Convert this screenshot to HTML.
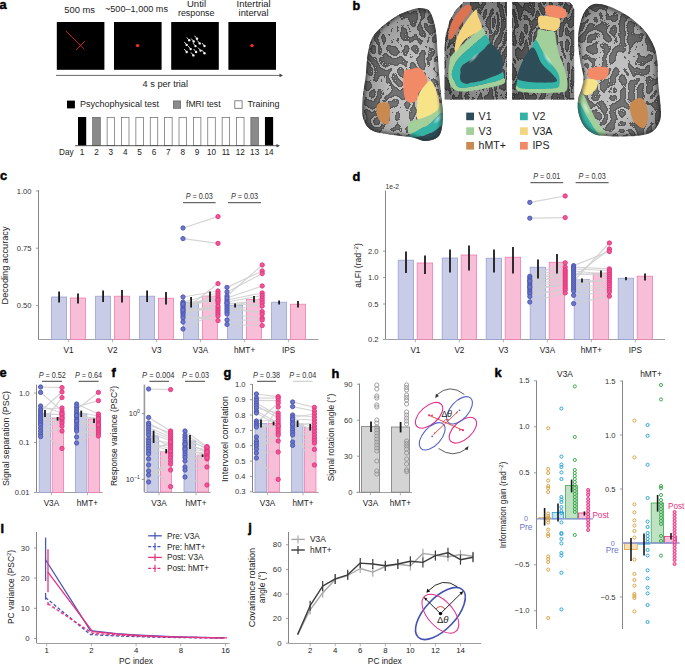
<!DOCTYPE html>
<html><head><meta charset="utf-8"><style>
html,body{margin:0;padding:0;background:#fff;}
svg{display:block;font-family:"Liberation Sans", sans-serif;}
</style></head><body>
<svg width="685" height="665" viewBox="0 0 685 665">
<rect width="685" height="665" fill="#fff"/>
<defs>
<filter id="tex" filterUnits="userSpaceOnUse" x="340" y="0" width="345" height="150" color-interpolation-filters="sRGB">
  <feTurbulence type="turbulence" baseFrequency="0.11 0.09" numOctaves="1" seed="4" result="noise"/>
  <feColorMatrix in="noise" type="matrix" values="0 0 0 0 0  0 0 0 0 0  0 0 0 0 0  1 0 0 0 0" result="c"/>
  <feComponentTransfer in="c" result="th"><feFuncA type="discrete" tableValues="0 0 0 0 0 0 0 0 0 1 1 1 1 1 1 1 1 1 1 1 1 1 1 1 1 1 1 1 1 1 1 1 1 1 1 1 1 1 1 1 1 1 1 1 1 1 1 1 1 1 1 1 1 1 1 1 1 1 1 1 1 1 1 1 1 1 1 1 1 1 1 1 1 1 1 1 1 1 1 1"/></feComponentTransfer>
  <feGaussianBlur in="th" stdDeviation="0.55" result="thb"/>
  <feComponentTransfer in="thb" result="th2"><feFuncA type="linear" slope="1.6" intercept="-0.3"/></feComponentTransfer>
  <feMorphology in="th2" operator="erode" radius="0.6" result="er"/>
  <feFlood flood-color="#5e5e5e" result="f1"/>
  <feComposite in="f1" in2="th2" operator="in" result="d1"/>
  <feFlood flood-color="#727272" result="f2"/>
  <feComposite in="f2" in2="er" operator="in" result="d2"/>
  <feMerge result="m"><feMergeNode in="d1"/><feMergeNode in="d2"/></feMerge>
  <feGaussianBlur in="m" stdDeviation="0.4" result="bl"/>
  <feComposite in="bl" in2="SourceAlpha" operator="in"/>
</filter>
<filter id="tex2" filterUnits="userSpaceOnUse" x="340" y="0" width="345" height="150" color-interpolation-filters="sRGB">
  <feTurbulence type="turbulence" baseFrequency="0.17 0.065" numOctaves="1" seed="9" result="noise"/>
  <feColorMatrix in="noise" type="matrix" values="0 0 0 0 0  0 0 0 0 0  0 0 0 0 0  1 0 0 0 0" result="c"/>
  <feComponentTransfer in="c" result="th"><feFuncA type="discrete" tableValues="0 0 0 0 0 0 0 0 0 1 1 1 1 1 1 1 1 1 1 1 1 1 1 1 1 1 1 1 1 1 1 1 1 1 1 1 1 1 1 1 1 1 1 1 1 1 1 1 1 1 1 1 1 1 1 1 1 1 1 1 1 1 1 1 1 1 1 1 1 1 1 1 1 1 1 1 1 1 1 1"/></feComponentTransfer>
  <feGaussianBlur in="th" stdDeviation="0.55" result="thb"/>
  <feComponentTransfer in="thb" result="th2"><feFuncA type="linear" slope="1.6" intercept="-0.3"/></feComponentTransfer>
  <feMorphology in="th2" operator="erode" radius="0.6" result="er"/>
  <feFlood flood-color="#525252" result="f1"/>
  <feComposite in="f1" in2="th2" operator="in" result="d1"/>
  <feFlood flood-color="#666666" result="f2"/>
  <feComposite in="f2" in2="er" operator="in" result="d2"/>
  <feMerge result="m"><feMergeNode in="d1"/><feMergeNode in="d2"/></feMerge>
  <feGaussianBlur in="m" stdDeviation="0.4" result="bl"/>
  <feComposite in="bl" in2="SourceAlpha" operator="in"/>
</filter>
<radialGradient id="shadeL" cx="0.62" cy="0.62" r="0.7">
  <stop offset="0.35" stop-color="#000" stop-opacity="0"/>
  <stop offset="0.8" stop-color="#000" stop-opacity="0.2"/>
  <stop offset="1" stop-color="#000" stop-opacity="0.45"/>
</radialGradient>
<radialGradient id="shadeR" cx="0.4" cy="0.62" r="0.7">
  <stop offset="0.35" stop-color="#000" stop-opacity="0"/>
  <stop offset="0.8" stop-color="#000" stop-opacity="0.2"/>
  <stop offset="1" stop-color="#000" stop-opacity="0.45"/>
</radialGradient>
<filter id="rimblur" x="-10%" y="-10%" width="120%" height="120%"><feGaussianBlur stdDeviation="1.6"/></filter>
<radialGradient id="hl"><stop offset="0" stop-color="#fff" stop-opacity="0.55"/><stop offset="1" stop-color="#fff" stop-opacity="0"/></radialGradient>
<radialGradient id="shadeM" cx="0.6" cy="0.55" r="0.75">
  <stop offset="0.3" stop-color="#000" stop-opacity="0.08"/>
  <stop offset="1" stop-color="#000" stop-opacity="0.4"/>
</radialGradient>

<clipPath id="clipL"><path d="M424.40,8.60 C427.15,9.20 428.62,9.15 430.50,12.60 C432.38,16.05 434.47,22.00 435.70,29.30 C436.93,36.60 437.15,47.00 437.90,56.40 C438.65,65.80 439.37,76.32 440.20,85.70 C441.03,95.08 442.72,105.20 442.90,112.70 C443.08,120.20 442.50,126.38 441.30,130.70 C440.10,135.02 438.52,136.88 435.70,138.60 C432.88,140.32 428.18,141.18 424.40,141.00 C420.62,140.82 417.90,138.45 413.00,137.50 C408.10,136.55 401.75,136.43 395.00,135.30 C388.25,134.17 377.75,133.33 372.50,130.70 C367.25,128.07 365.18,124.38 363.50,119.50 C361.82,114.62 362.02,108.92 362.40,101.40 C362.78,93.88 364.87,82.67 365.80,74.40 C366.73,66.13 366.50,58.57 368.00,51.80 C369.50,45.03 370.30,39.62 374.80,33.80 C379.30,27.98 388.47,21.03 395.00,16.90 C401.53,12.77 409.10,10.38 414.00,9.00 C418.90,7.62 421.65,8.00 424.40,8.60 Z"/></clipPath>
<clipPath id="clipR"><path d="M594.00,4.00 C597.83,3.17 602.33,4.00 608.00,6.00 C613.67,8.00 622.00,12.00 628.00,16.00 C634.00,20.00 639.67,25.00 644.00,30.00 C648.33,35.00 651.75,40.67 654.00,46.00 C656.25,51.33 656.83,56.33 657.50,62.00 C658.17,67.67 657.58,73.67 658.00,80.00 C658.42,86.33 659.50,94.67 660.00,100.00 C660.50,105.33 661.08,108.33 661.00,112.00 C660.92,115.67 661.00,118.67 659.50,122.00 C658.00,125.33 655.58,129.70 652.00,132.00 C648.42,134.30 643.33,135.05 638.00,135.80 C632.67,136.55 625.33,136.47 620.00,136.50 C614.67,136.53 610.33,136.42 606.00,136.00 C601.67,135.58 597.67,135.67 594.00,134.00 C590.33,132.33 586.58,129.50 584.00,126.00 C581.42,122.50 579.50,117.33 578.50,113.00 C577.50,108.67 577.58,103.83 578.00,100.00 C578.42,96.17 580.08,93.67 581.00,90.00 C581.92,86.33 583.67,83.00 583.50,78.00 C583.33,73.00 580.92,66.33 580.00,60.00 C579.08,53.67 578.00,46.00 578.00,40.00 C578.00,34.00 578.83,28.83 580.00,24.00 C581.17,19.17 582.67,14.33 585.00,11.00 C587.33,7.67 590.17,4.83 594.00,4.00 Z"/></clipPath>
<clipPath id="clipM1"><path d="M463.70,1.90 L507.00,1.90 L507.00,99.70 L444.40,99.70 L444.40,47.30 L445.50,34.70 L449.50,20.50 L455.80,9.50 Z"/></clipPath>
<clipPath id="clipM2"><path d="M512.10,1.90 L569.70,1.90 L572.50,5.00 L574.40,9.50 L574.40,99.70 L512.10,99.70 Z"/></clipPath>
</defs>
<g clip-path="url(#clipL)">
<path d="M424.40,8.60 C427.15,9.20 428.62,9.15 430.50,12.60 C432.38,16.05 434.47,22.00 435.70,29.30 C436.93,36.60 437.15,47.00 437.90,56.40 C438.65,65.80 439.37,76.32 440.20,85.70 C441.03,95.08 442.72,105.20 442.90,112.70 C443.08,120.20 442.50,126.38 441.30,130.70 C440.10,135.02 438.52,136.88 435.70,138.60 C432.88,140.32 428.18,141.18 424.40,141.00 C420.62,140.82 417.90,138.45 413.00,137.50 C408.10,136.55 401.75,136.43 395.00,135.30 C388.25,134.17 377.75,133.33 372.50,130.70 C367.25,128.07 365.18,124.38 363.50,119.50 C361.82,114.62 362.02,108.92 362.40,101.40 C362.78,93.88 364.87,82.67 365.80,74.40 C366.73,66.13 366.50,58.57 368.00,51.80 C369.50,45.03 370.30,39.62 374.80,33.80 C379.30,27.98 388.47,21.03 395.00,16.90 C401.53,12.77 409.10,10.38 414.00,9.00 C418.90,7.62 421.65,8.00 424.40,8.60 Z" fill="#c0c0c0"/>
<path d="M424.40,8.60 C427.15,9.20 428.62,9.15 430.50,12.60 C432.38,16.05 434.47,22.00 435.70,29.30 C436.93,36.60 437.15,47.00 437.90,56.40 C438.65,65.80 439.37,76.32 440.20,85.70 C441.03,95.08 442.72,105.20 442.90,112.70 C443.08,120.20 442.50,126.38 441.30,130.70 C440.10,135.02 438.52,136.88 435.70,138.60 C432.88,140.32 428.18,141.18 424.40,141.00 C420.62,140.82 417.90,138.45 413.00,137.50 C408.10,136.55 401.75,136.43 395.00,135.30 C388.25,134.17 377.75,133.33 372.50,130.70 C367.25,128.07 365.18,124.38 363.50,119.50 C361.82,114.62 362.02,108.92 362.40,101.40 C362.78,93.88 364.87,82.67 365.80,74.40 C366.73,66.13 366.50,58.57 368.00,51.80 C369.50,45.03 370.30,39.62 374.80,33.80 C379.30,27.98 388.47,21.03 395.00,16.90 C401.53,12.77 409.10,10.38 414.00,9.00 C418.90,7.62 421.65,8.00 424.40,8.60 Z" fill="#707070" filter="url(#tex)"/>
<path d="M424.40,8.60 C427.15,9.20 428.62,9.15 430.50,12.60 C432.38,16.05 434.47,22.00 435.70,29.30 C436.93,36.60 437.15,47.00 437.90,56.40 C438.65,65.80 439.37,76.32 440.20,85.70 C441.03,95.08 442.72,105.20 442.90,112.70 C443.08,120.20 442.50,126.38 441.30,130.70 C440.10,135.02 438.52,136.88 435.70,138.60 C432.88,140.32 428.18,141.18 424.40,141.00 C420.62,140.82 417.90,138.45 413.00,137.50 C408.10,136.55 401.75,136.43 395.00,135.30 C388.25,134.17 377.75,133.33 372.50,130.70 C367.25,128.07 365.18,124.38 363.50,119.50 C361.82,114.62 362.02,108.92 362.40,101.40 C362.78,93.88 364.87,82.67 365.80,74.40 C366.73,66.13 366.50,58.57 368.00,51.80 C369.50,45.03 370.30,39.62 374.80,33.80 C379.30,27.98 388.47,21.03 395.00,16.90 C401.53,12.77 409.10,10.38 414.00,9.00 C418.90,7.62 421.65,8.00 424.40,8.60 Z" fill="url(#shadeL)"/>
<path d="M404.00,72.00 C405.33,67.83 409.33,69.67 412.00,69.00 C414.67,68.33 417.50,66.50 420.00,68.00 C422.50,69.50 426.00,75.00 427.00,78.00 C428.00,81.00 427.33,83.67 426.00,86.00 C424.67,88.33 420.67,89.50 419.00,92.00 C417.33,94.50 417.83,99.33 416.00,101.00 C414.17,102.67 410.00,103.17 408.00,102.00 C406.00,100.83 404.67,99.00 404.00,94.00 C403.33,89.00 402.67,76.17 404.00,72.00 Z" fill="#f28a68"/>
<path d="M419.00,94.00 C420.50,90.33 424.00,86.17 426.00,84.00 C428.00,81.83 429.33,80.00 431.00,81.00 C432.67,82.00 434.58,86.17 436.00,90.00 C437.42,93.83 439.33,100.33 439.50,104.00 C439.67,107.67 438.92,109.83 437.00,112.00 C435.08,114.17 431.17,115.67 428.00,117.00 C424.83,118.33 419.83,121.83 418.00,120.00 C416.17,118.17 416.83,110.33 417.00,106.00 C417.17,101.67 417.50,97.67 419.00,94.00 Z" fill="#f8e488"/>
<path d="M378.00,104.00 C379.92,102.50 386.00,101.67 388.00,103.00 C390.00,104.33 390.00,108.50 390.00,112.00 C390.00,115.50 389.67,122.50 388.00,124.00 C386.33,125.50 381.92,123.00 380.00,121.00 C378.08,119.00 376.83,114.83 376.50,112.00 C376.17,109.17 376.08,105.50 378.00,104.00 Z" fill="#c98a52"/>
<path d="M409.50,121.80 C411.65,119.88 417.30,119.73 420.90,118.50 C424.50,117.27 428.38,115.77 431.10,114.40 C433.82,113.03 435.67,111.83 437.20,110.30 C438.73,108.77 438.83,106.25 440.30,105.20 C441.77,104.15 445.05,102.87 446.00,104.00 C446.95,105.13 446.62,110.60 446.00,112.00 C445.38,113.40 443.77,111.65 442.30,112.40 C440.83,113.15 439.42,114.47 437.20,116.50 C434.98,118.53 431.72,122.57 429.00,124.60 C426.28,126.63 423.95,127.08 420.90,128.70 C417.85,130.32 412.85,134.08 410.70,134.30 C408.55,134.52 408.20,132.08 408.00,130.00 C407.80,127.92 407.35,123.72 409.50,121.80 Z" fill="#a3d09a"/>
<path d="M410.70,134.30 C412.68,132.92 417.85,130.32 420.90,128.70 C423.95,127.08 426.28,126.63 429.00,124.60 C431.72,122.57 434.98,118.53 437.20,116.50 C439.42,114.47 440.83,113.15 442.30,112.40 C443.77,111.65 445.38,110.40 446.00,112.00 C446.62,113.60 446.35,120.23 446.00,122.00 C445.65,123.77 444.68,121.98 443.90,122.60 C443.12,123.22 443.10,124.17 441.30,125.70 C439.50,127.23 436.17,130.10 433.10,131.80 C430.03,133.50 426.47,134.88 422.90,135.90 C419.33,136.92 414.02,137.72 411.70,137.90 C409.38,138.08 409.17,137.60 409.00,137.00 C408.83,136.40 408.72,135.68 410.70,134.30 Z" fill="#33b3a5"/>
<path d="M411.70,137.90 C413.52,137.05 419.33,136.92 422.90,135.90 C426.47,134.88 430.03,133.50 433.10,131.80 C436.17,130.10 439.50,127.23 441.30,125.70 C443.10,124.17 442.95,123.22 443.90,122.60 C444.85,121.98 446.48,119.93 447.00,122.00 C447.52,124.07 448.17,131.50 447.00,135.00 C445.83,138.50 443.67,141.50 440.00,143.00 C436.33,144.50 429.67,144.33 425.00,144.00 C420.33,143.67 414.22,142.02 412.00,141.00 C409.78,139.98 409.88,138.75 411.70,137.90 Z" fill="#2d4d58"/>
<ellipse cx="438" cy="119" rx="3" ry="7" fill="url(#hl)" transform="rotate(40 438 119)"/>
<path d="M424.40,8.60 C427.15,9.20 428.62,9.15 430.50,12.60 C432.38,16.05 434.47,22.00 435.70,29.30 C436.93,36.60 437.15,47.00 437.90,56.40 C438.65,65.80 439.37,76.32 440.20,85.70 C441.03,95.08 442.72,105.20 442.90,112.70 C443.08,120.20 442.50,126.38 441.30,130.70 C440.10,135.02 438.52,136.88 435.70,138.60 C432.88,140.32 428.18,141.18 424.40,141.00 C420.62,140.82 417.90,138.45 413.00,137.50 C408.10,136.55 401.75,136.43 395.00,135.30 C388.25,134.17 377.75,133.33 372.50,130.70 C367.25,128.07 365.18,124.38 363.50,119.50 C361.82,114.62 362.02,108.92 362.40,101.40 C362.78,93.88 364.87,82.67 365.80,74.40 C366.73,66.13 366.50,58.57 368.00,51.80 C369.50,45.03 370.30,39.62 374.80,33.80 C379.30,27.98 388.47,21.03 395.00,16.90 C401.53,12.77 409.10,10.38 414.00,9.00 C418.90,7.62 421.65,8.00 424.40,8.60 Z" fill="none" stroke="#2a2a2a" stroke-width="5" stroke-opacity="0.55" filter="url(#rimblur)"/>
</g>
<g clip-path="url(#clipM1)">
<path d="M463.70,1.90 L507.00,1.90 L507.00,99.70 L444.40,99.70 L444.40,47.30 L445.50,34.70 L449.50,20.50 L455.80,9.50 Z" fill="#acacac"/>
<path d="M463.70,1.90 L507.00,1.90 L507.00,99.70 L444.40,99.70 L444.40,47.30 L445.50,34.70 L449.50,20.50 L455.80,9.50 Z" fill="#707070" filter="url(#tex2)"/>
<path d="M463.70,1.90 L507.00,1.90 L507.00,99.70 L444.40,99.70 L444.40,47.30 L445.50,34.70 L449.50,20.50 L455.80,9.50 Z" fill="url(#shadeM)"/>
<path d="M481.30,26.50 C482.72,27.17 485.72,32.92 485.50,35.00 C485.28,37.08 482.25,37.17 480.00,39.00 C477.75,40.83 474.83,43.50 472.00,46.00 C469.17,48.50 465.67,51.33 463.00,54.00 C460.33,56.67 457.72,59.33 456.00,62.00 C454.28,64.67 453.37,67.67 452.70,70.00 C452.03,72.33 451.62,74.00 452.00,76.00 C452.38,78.00 454.17,80.33 455.00,82.00 C455.83,83.67 455.83,85.00 457.00,86.00 C458.17,87.00 459.83,87.83 462.00,88.00 C464.17,88.17 466.67,87.58 470.00,87.00 C473.33,86.42 477.83,85.42 482.00,84.50 C486.17,83.58 491.42,82.58 495.00,81.50 C498.58,80.42 501.92,77.75 503.50,78.00 C505.08,78.25 505.92,81.58 504.50,83.00 C503.08,84.42 499.08,85.42 495.00,86.50 C490.92,87.58 485.00,88.67 480.00,89.50 C475.00,90.33 469.17,91.42 465.00,91.50 C460.83,91.58 457.50,91.25 455.00,90.00 C452.50,88.75 451.08,86.50 450.00,84.00 C448.92,81.50 448.67,78.17 448.50,75.00 C448.33,71.83 448.65,67.97 449.00,65.00 C449.35,62.03 449.45,59.57 450.60,57.20 C451.75,54.83 453.83,53.00 455.90,50.80 C457.97,48.60 460.48,46.30 463.00,44.00 C465.52,41.70 468.67,39.17 471.00,37.00 C473.33,34.83 475.28,32.75 477.00,31.00 C478.72,29.25 479.88,25.83 481.30,26.50 Z" fill="#a3d09a"/>
<path d="M485.50,35.00 C487.12,35.73 490.23,40.77 489.70,43.40 C489.17,46.03 485.28,48.15 482.30,50.80 C479.32,53.45 475.18,56.77 471.80,59.30 C468.42,61.83 463.88,63.88 462.00,66.00 C460.12,68.12 460.75,69.67 460.50,72.00 C460.25,74.33 459.68,78.07 460.50,80.00 C461.32,81.93 463.48,83.18 465.40,83.60 C467.32,84.02 469.18,83.03 472.00,82.50 C474.82,81.97 478.97,81.32 482.30,80.40 C485.63,79.48 488.88,78.23 492.00,77.00 C495.12,75.77 499.17,73.75 501.00,73.00 C502.83,72.25 502.58,71.67 503.00,72.50 C503.42,73.33 504.83,76.50 503.50,78.00 C502.17,79.50 498.58,80.42 495.00,81.50 C491.42,82.58 486.17,83.58 482.00,84.50 C477.83,85.42 473.33,86.42 470.00,87.00 C466.67,87.58 464.17,88.17 462.00,88.00 C459.83,87.83 458.17,87.00 457.00,86.00 C455.83,85.00 455.83,83.67 455.00,82.00 C454.17,80.33 452.38,78.00 452.00,76.00 C451.62,74.00 452.03,72.33 452.70,70.00 C453.37,67.67 454.28,64.67 456.00,62.00 C457.72,59.33 460.33,56.67 463.00,54.00 C465.67,51.33 469.17,48.50 472.00,46.00 C474.83,43.50 477.75,40.83 480.00,39.00 C482.25,37.17 483.88,34.27 485.50,35.00 Z" fill="#33b3a5"/>
<path d="M489.70,43.40 C491.98,42.93 494.05,46.07 496.00,48.00 C497.95,49.93 500.23,52.50 501.40,55.00 C502.57,57.50 502.83,60.50 503.00,63.00 C503.17,65.50 502.73,68.33 502.40,70.00 C502.07,71.67 502.73,71.83 501.00,73.00 C499.27,74.17 495.12,75.77 492.00,77.00 C488.88,78.23 485.63,79.48 482.30,80.40 C478.97,81.32 474.82,81.97 472.00,82.50 C469.18,83.03 467.32,84.02 465.40,83.60 C463.48,83.18 461.32,81.93 460.50,80.00 C459.68,78.07 460.25,74.33 460.50,72.00 C460.75,69.67 460.12,68.12 462.00,66.00 C463.88,63.88 468.42,61.83 471.80,59.30 C475.18,56.77 479.32,53.45 482.30,50.80 C485.28,48.15 487.42,43.87 489.70,43.40 Z" fill="#2d4d58"/>
<path d="M455.00,52.00 C454.73,50.42 454.88,44.67 455.80,41.00 C456.72,37.33 458.13,34.17 460.50,30.00 C462.87,25.83 467.37,19.42 470.00,16.00 C472.63,12.58 474.97,9.50 476.30,9.50 C477.63,9.50 477.08,13.12 478.00,16.00 C478.92,18.88 481.80,24.22 481.80,26.80 C481.80,29.38 479.97,29.92 478.00,31.50 C476.03,33.08 472.38,34.72 470.00,36.30 C467.62,37.88 465.80,38.63 463.70,41.00 C461.60,43.37 458.85,48.67 457.40,50.50 C455.95,52.33 455.27,53.58 455.00,52.00 Z" fill="#f4d47c"/>
<path d="M448.70,38.60 C448.18,37.02 448.58,31.93 449.50,28.40 C450.42,24.87 452.10,20.82 454.20,17.40 C456.30,13.98 459.73,10.02 462.10,7.90 C464.47,5.78 466.83,4.83 468.40,4.70 C469.97,4.57 471.23,5.78 471.50,7.10 C471.77,8.42 471.30,10.37 470.00,12.60 C468.70,14.83 465.80,17.60 463.70,20.50 C461.60,23.40 459.25,27.10 457.40,30.00 C455.55,32.90 454.05,36.47 452.60,37.90 C451.15,39.33 449.22,40.18 448.70,38.60 Z" fill="#de7352"/>
<ellipse cx="474" cy="58" rx="2" ry="8" fill="url(#hl)" transform="rotate(45 474 58)"/>
</g>
<g clip-path="url(#clipM2)">
<path d="M512.10,1.90 L569.70,1.90 L572.50,5.00 L574.40,9.50 L574.40,99.70 L512.10,99.70 Z" fill="#acacac"/>
<path d="M512.10,1.90 L569.70,1.90 L572.50,5.00 L574.40,9.50 L574.40,99.70 L512.10,99.70 Z" fill="#707070" filter="url(#tex2)"/>
<path d="M512.10,1.90 L569.70,1.90 L572.50,5.00 L574.40,9.50 L574.40,99.70 L512.10,99.70 Z" fill="url(#shadeM)"/>
<path d="M538.40,29.60 C539.90,28.73 543.35,30.43 546.00,30.80 C548.65,31.17 552.63,30.27 554.30,31.80 C555.97,33.33 555.30,36.47 556.00,40.00 C556.70,43.53 557.37,49.08 558.50,53.00 C559.63,56.92 561.55,60.00 562.80,63.50 C564.05,67.00 565.22,70.58 566.00,74.00 C566.78,77.42 567.50,81.17 567.50,84.00 C567.50,86.83 567.42,89.58 566.00,91.00 C564.58,92.42 563.33,92.17 559.00,92.50 C554.67,92.83 546.17,93.08 540.00,93.00 C533.83,92.92 526.00,92.67 522.00,92.00 C518.00,91.33 516.83,90.33 516.00,89.00 C515.17,87.67 516.50,85.83 517.00,84.00 C517.50,82.17 518.17,81.00 519.00,78.00 C519.83,75.00 520.50,69.83 522.00,66.00 C523.50,62.17 526.00,58.50 528.00,55.00 C530.00,51.50 532.50,48.17 534.00,45.00 C535.50,41.83 536.27,38.57 537.00,36.00 C537.73,33.43 536.90,30.47 538.40,29.60 Z" fill="#a3d09a"/>
<path d="M536.00,40.00 C537.95,41.00 541.18,49.08 543.70,53.00 C546.22,56.92 548.63,60.00 551.10,63.50 C553.57,67.00 557.10,70.58 558.50,74.00 C559.90,77.42 559.85,81.67 559.50,84.00 C559.15,86.33 559.65,87.17 556.40,88.00 C553.15,88.83 545.73,88.92 540.00,89.00 C534.27,89.08 525.83,89.08 522.00,88.50 C518.17,87.92 517.75,87.08 517.00,85.50 C516.25,83.92 516.83,81.92 517.50,79.00 C518.17,76.08 519.42,71.83 521.00,68.00 C522.58,64.17 525.17,59.50 527.00,56.00 C528.83,52.50 530.50,49.67 532.00,47.00 C533.50,44.33 534.05,39.00 536.00,40.00 Z" fill="#33b3a5"/>
<path d="M533.10,47.60 C536.08,48.30 538.42,59.10 541.60,63.50 C544.78,67.90 549.73,71.00 552.20,74.00 C554.67,77.00 558.52,80.07 556.40,81.50 C554.28,82.93 544.57,82.60 539.50,82.60 C534.43,82.60 529.67,82.10 526.00,81.50 C522.33,80.90 518.80,80.58 517.50,79.00 C516.20,77.42 517.17,75.28 518.20,72.00 C519.23,68.72 521.22,63.37 523.70,59.30 C526.18,55.23 530.12,46.90 533.10,47.60 Z" fill="#2d4d58"/>
<path d="M538.40,17.00 C539.45,15.07 542.45,15.73 545.80,15.90 C549.15,16.07 556.20,16.42 558.50,18.00 C560.80,19.58 560.12,23.28 559.60,25.40 C559.08,27.52 557.70,30.00 555.40,30.70 C553.10,31.40 548.45,30.13 545.80,29.60 C543.15,29.07 540.73,29.60 539.50,27.50 C538.27,25.40 537.35,18.93 538.40,17.00 Z" fill="#f4d47c"/>
<path d="M545.80,6.40 C547.15,4.85 551.82,4.98 555.00,5.50 C558.18,6.02 563.07,7.58 564.90,9.50 C566.73,11.42 567.23,15.58 566.00,17.00 C564.77,18.42 560.68,18.37 557.50,18.00 C554.32,17.63 548.85,16.73 546.90,14.80 C544.95,12.87 544.45,7.95 545.80,6.40 Z" fill="#f28a68"/>
<ellipse cx="547.5" cy="59" rx="2.5" ry="9" fill="url(#hl)" transform="rotate(-35 547.5 59)"/>
</g>
<g clip-path="url(#clipR)">
<path d="M594.00,4.00 C597.83,3.17 602.33,4.00 608.00,6.00 C613.67,8.00 622.00,12.00 628.00,16.00 C634.00,20.00 639.67,25.00 644.00,30.00 C648.33,35.00 651.75,40.67 654.00,46.00 C656.25,51.33 656.83,56.33 657.50,62.00 C658.17,67.67 657.58,73.67 658.00,80.00 C658.42,86.33 659.50,94.67 660.00,100.00 C660.50,105.33 661.08,108.33 661.00,112.00 C660.92,115.67 661.00,118.67 659.50,122.00 C658.00,125.33 655.58,129.70 652.00,132.00 C648.42,134.30 643.33,135.05 638.00,135.80 C632.67,136.55 625.33,136.47 620.00,136.50 C614.67,136.53 610.33,136.42 606.00,136.00 C601.67,135.58 597.67,135.67 594.00,134.00 C590.33,132.33 586.58,129.50 584.00,126.00 C581.42,122.50 579.50,117.33 578.50,113.00 C577.50,108.67 577.58,103.83 578.00,100.00 C578.42,96.17 580.08,93.67 581.00,90.00 C581.92,86.33 583.67,83.00 583.50,78.00 C583.33,73.00 580.92,66.33 580.00,60.00 C579.08,53.67 578.00,46.00 578.00,40.00 C578.00,34.00 578.83,28.83 580.00,24.00 C581.17,19.17 582.67,14.33 585.00,11.00 C587.33,7.67 590.17,4.83 594.00,4.00 Z" fill="#c0c0c0"/>
<path d="M594.00,4.00 C597.83,3.17 602.33,4.00 608.00,6.00 C613.67,8.00 622.00,12.00 628.00,16.00 C634.00,20.00 639.67,25.00 644.00,30.00 C648.33,35.00 651.75,40.67 654.00,46.00 C656.25,51.33 656.83,56.33 657.50,62.00 C658.17,67.67 657.58,73.67 658.00,80.00 C658.42,86.33 659.50,94.67 660.00,100.00 C660.50,105.33 661.08,108.33 661.00,112.00 C660.92,115.67 661.00,118.67 659.50,122.00 C658.00,125.33 655.58,129.70 652.00,132.00 C648.42,134.30 643.33,135.05 638.00,135.80 C632.67,136.55 625.33,136.47 620.00,136.50 C614.67,136.53 610.33,136.42 606.00,136.00 C601.67,135.58 597.67,135.67 594.00,134.00 C590.33,132.33 586.58,129.50 584.00,126.00 C581.42,122.50 579.50,117.33 578.50,113.00 C577.50,108.67 577.58,103.83 578.00,100.00 C578.42,96.17 580.08,93.67 581.00,90.00 C581.92,86.33 583.67,83.00 583.50,78.00 C583.33,73.00 580.92,66.33 580.00,60.00 C579.08,53.67 578.00,46.00 578.00,40.00 C578.00,34.00 578.83,28.83 580.00,24.00 C581.17,19.17 582.67,14.33 585.00,11.00 C587.33,7.67 590.17,4.83 594.00,4.00 Z" fill="#707070" filter="url(#tex)"/>
<path d="M594.00,4.00 C597.83,3.17 602.33,4.00 608.00,6.00 C613.67,8.00 622.00,12.00 628.00,16.00 C634.00,20.00 639.67,25.00 644.00,30.00 C648.33,35.00 651.75,40.67 654.00,46.00 C656.25,51.33 656.83,56.33 657.50,62.00 C658.17,67.67 657.58,73.67 658.00,80.00 C658.42,86.33 659.50,94.67 660.00,100.00 C660.50,105.33 661.08,108.33 661.00,112.00 C660.92,115.67 661.00,118.67 659.50,122.00 C658.00,125.33 655.58,129.70 652.00,132.00 C648.42,134.30 643.33,135.05 638.00,135.80 C632.67,136.55 625.33,136.47 620.00,136.50 C614.67,136.53 610.33,136.42 606.00,136.00 C601.67,135.58 597.67,135.67 594.00,134.00 C590.33,132.33 586.58,129.50 584.00,126.00 C581.42,122.50 579.50,117.33 578.50,113.00 C577.50,108.67 577.58,103.83 578.00,100.00 C578.42,96.17 580.08,93.67 581.00,90.00 C581.92,86.33 583.67,83.00 583.50,78.00 C583.33,73.00 580.92,66.33 580.00,60.00 C579.08,53.67 578.00,46.00 578.00,40.00 C578.00,34.00 578.83,28.83 580.00,24.00 C581.17,19.17 582.67,14.33 585.00,11.00 C587.33,7.67 590.17,4.83 594.00,4.00 Z" fill="url(#shadeR)"/>
<path d="M588.00,70.00 C589.17,68.17 592.67,67.33 596.00,67.00 C599.33,66.67 606.17,66.33 608.00,68.00 C609.83,69.67 608.33,75.00 607.00,77.00 C605.67,79.00 603.00,79.83 600.00,80.00 C597.00,80.17 591.00,79.67 589.00,78.00 C587.00,76.33 586.83,71.83 588.00,70.00 Z" fill="#f28a68"/>
<path d="M582.00,84.00 C582.50,81.67 583.50,79.50 586.00,79.00 C588.50,78.50 595.33,79.33 597.00,81.00 C598.67,82.67 597.50,86.67 596.00,89.00 C594.50,91.33 590.17,94.33 588.00,95.00 C585.83,95.67 584.00,94.83 583.00,93.00 C582.00,91.17 581.50,86.33 582.00,84.00 Z" fill="#f8e488"/>
<path d="M630.00,104.00 C631.33,100.67 637.33,98.00 640.00,98.00 C642.67,98.00 644.67,100.67 646.00,104.00 C647.33,107.33 648.33,114.00 648.00,118.00 C647.67,122.00 646.00,127.00 644.00,128.00 C642.00,129.00 638.00,125.67 636.00,124.00 C634.00,122.33 633.00,121.33 632.00,118.00 C631.00,114.67 628.67,107.33 630.00,104.00 Z" fill="#c98a52"/>
<path d="M576,92 L583,93 L588,104 L596,120 L606,133 L600,138 L585,130 L576,118 Z" fill="#a3d09a"/>
<path d="M576,102 L580,103 L586,115 L594,128 L600,136 L590,138 L578,126 L575,112 Z" fill="#33b3a5"/>
<path d="M575,118 L581,124 L590,134 L592,138 L580,134 Z" fill="#2d4d58"/>
<ellipse cx="586" cy="108" rx="2.5" ry="8" fill="url(#hl)" transform="rotate(-25 586 108)"/>
<path d="M594.00,4.00 C597.83,3.17 602.33,4.00 608.00,6.00 C613.67,8.00 622.00,12.00 628.00,16.00 C634.00,20.00 639.67,25.00 644.00,30.00 C648.33,35.00 651.75,40.67 654.00,46.00 C656.25,51.33 656.83,56.33 657.50,62.00 C658.17,67.67 657.58,73.67 658.00,80.00 C658.42,86.33 659.50,94.67 660.00,100.00 C660.50,105.33 661.08,108.33 661.00,112.00 C660.92,115.67 661.00,118.67 659.50,122.00 C658.00,125.33 655.58,129.70 652.00,132.00 C648.42,134.30 643.33,135.05 638.00,135.80 C632.67,136.55 625.33,136.47 620.00,136.50 C614.67,136.53 610.33,136.42 606.00,136.00 C601.67,135.58 597.67,135.67 594.00,134.00 C590.33,132.33 586.58,129.50 584.00,126.00 C581.42,122.50 579.50,117.33 578.50,113.00 C577.50,108.67 577.58,103.83 578.00,100.00 C578.42,96.17 580.08,93.67 581.00,90.00 C581.92,86.33 583.67,83.00 583.50,78.00 C583.33,73.00 580.92,66.33 580.00,60.00 C579.08,53.67 578.00,46.00 578.00,40.00 C578.00,34.00 578.83,28.83 580.00,24.00 C581.17,19.17 582.67,14.33 585.00,11.00 C587.33,7.67 590.17,4.83 594.00,4.00 Z" fill="none" stroke="#2a2a2a" stroke-width="5" stroke-opacity="0.55" filter="url(#rimblur)"/>
</g>
<rect x="466.2" y="112.6" width="7.8" height="7.6" fill="#2d4d58"/>
<text x="478.59999999999997" y="119.8" font-size="10.6" fill="#222">V1</text>
<rect x="520.0" y="112.6" width="7.8" height="7.6" fill="#33b3a5"/>
<text x="532.4" y="119.8" font-size="10.6" fill="#222">V2</text>
<rect x="466.2" y="127.3" width="7.8" height="7.6" fill="#a3d09a"/>
<text x="478.59999999999997" y="134.5" font-size="10.6" fill="#222">V3</text>
<rect x="520.0" y="127.3" width="7.8" height="7.6" fill="#f4d47c"/>
<text x="532.4" y="134.5" font-size="10.6" fill="#222">V3A</text>
<rect x="466.2" y="142.0" width="7.8" height="7.6" fill="#c98a52"/>
<text x="478.59999999999997" y="149.2" font-size="10.6" fill="#222">hMT+</text>
<rect x="520.0" y="142.0" width="7.8" height="7.6" fill="#f28a68"/>
<text x="532.4" y="149.2" font-size="10.6" fill="#222">IPS</text>
<text x="352.5" y="9.6" font-size="12.6" font-weight="bold" fill="#000" stroke="#000" stroke-width="0.45">b</text>
<text x="-0.50" y="8.90" font-size="12.8" text-anchor="start" fill="#000" font-weight="bold" stroke="#000" stroke-width="0.45">a</text>
<text x="79.60" y="12.60" font-size="9.6" text-anchor="middle" fill="#222" textLength="30.8" lengthAdjust="spacingAndGlyphs">500 ms</text>
<text x="136.50" y="12.40" font-size="9.6" text-anchor="middle" fill="#222" textLength="63" lengthAdjust="spacingAndGlyphs">~500–1,000 ms</text>
<text x="196.50" y="6.60" font-size="9.6" text-anchor="middle" fill="#222" textLength="19" lengthAdjust="spacingAndGlyphs">Until</text>
<text x="196.20" y="16.40" font-size="9.6" text-anchor="middle" fill="#222" textLength="36.4" lengthAdjust="spacingAndGlyphs">response</text>
<text x="253.60" y="6.60" font-size="9.6" text-anchor="middle" fill="#222" textLength="34" lengthAdjust="spacingAndGlyphs">Intertrial</text>
<text x="253.60" y="16.40" font-size="9.6" text-anchor="middle" fill="#222" textLength="30" lengthAdjust="spacingAndGlyphs">interval</text>
<rect x="56.80" y="22.00" width="47.60" height="47.80" fill="#000" stroke="none" stroke-width="0.8"/>
<rect x="114.00" y="22.00" width="47.60" height="47.80" fill="#000" stroke="none" stroke-width="0.8"/>
<rect x="171.20" y="22.00" width="47.60" height="47.80" fill="#000" stroke="none" stroke-width="0.8"/>
<rect x="228.40" y="22.00" width="47.60" height="47.80" fill="#000" stroke="none" stroke-width="0.8"/>
<line x1="66.00" y1="31.00" x2="84.40" y2="49.20" stroke="#e3202a" stroke-width="0.9"/>
<line x1="76.00" y1="50.00" x2="85.00" y2="41.00" stroke="#e3202a" stroke-width="0.9"/>
<circle cx="137.60" cy="45.60" r="1.7" fill="#ff2a2a" stroke="none" stroke-width="0.8"/>
<circle cx="252.00" cy="45.60" r="1.7" fill="#ff2a2a" stroke="none" stroke-width="0.8"/>
<line x1="186.70" y1="37.30" x2="189.20" y2="40.30" stroke="#e8e8e8" stroke-width="0.9"/>
<circle cx="189.20" cy="40.30" r="1.2" fill="#f4f4f4" stroke="none" stroke-width="0.8"/>
<line x1="191.20" y1="38.50" x2="193.70" y2="41.50" stroke="#e8e8e8" stroke-width="0.9"/>
<circle cx="193.70" cy="41.50" r="1.2" fill="#f4f4f4" stroke="none" stroke-width="0.8"/>
<line x1="194.50" y1="35.70" x2="197.00" y2="38.70" stroke="#e8e8e8" stroke-width="0.9"/>
<circle cx="197.00" cy="38.70" r="1.2" fill="#f4f4f4" stroke="none" stroke-width="0.8"/>
<line x1="197.20" y1="40.40" x2="199.70" y2="43.40" stroke="#e8e8e8" stroke-width="0.9"/>
<circle cx="199.70" cy="43.40" r="1.2" fill="#f4f4f4" stroke="none" stroke-width="0.8"/>
<line x1="202.00" y1="43.00" x2="204.50" y2="46.00" stroke="#e8e8e8" stroke-width="0.9"/>
<circle cx="204.50" cy="46.00" r="1.2" fill="#f4f4f4" stroke="none" stroke-width="0.8"/>
<line x1="184.20" y1="41.90" x2="186.70" y2="44.90" stroke="#e8e8e8" stroke-width="0.9"/>
<circle cx="186.70" cy="44.90" r="1.2" fill="#f4f4f4" stroke="none" stroke-width="0.8"/>
<line x1="193.00" y1="43.10" x2="195.50" y2="46.10" stroke="#e8e8e8" stroke-width="0.9"/>
<circle cx="195.50" cy="46.10" r="1.2" fill="#f4f4f4" stroke="none" stroke-width="0.8"/>
<line x1="188.20" y1="46.10" x2="190.70" y2="49.10" stroke="#e8e8e8" stroke-width="0.9"/>
<circle cx="190.70" cy="49.10" r="1.2" fill="#f4f4f4" stroke="none" stroke-width="0.8"/>
<line x1="198.10" y1="47.60" x2="200.60" y2="50.60" stroke="#e8e8e8" stroke-width="0.9"/>
<circle cx="200.60" cy="50.60" r="1.2" fill="#f4f4f4" stroke="none" stroke-width="0.8"/>
<line x1="184.20" y1="49.00" x2="186.70" y2="52.00" stroke="#e8e8e8" stroke-width="0.9"/>
<circle cx="186.70" cy="52.00" r="1.2" fill="#f4f4f4" stroke="none" stroke-width="0.8"/>
<line x1="193.60" y1="49.00" x2="196.10" y2="52.00" stroke="#e8e8e8" stroke-width="0.9"/>
<circle cx="196.10" cy="52.00" r="1.2" fill="#f4f4f4" stroke="none" stroke-width="0.8"/>
<line x1="202.00" y1="50.20" x2="204.50" y2="53.20" stroke="#e8e8e8" stroke-width="0.9"/>
<circle cx="204.50" cy="53.20" r="1.2" fill="#f4f4f4" stroke="none" stroke-width="0.8"/>
<line x1="190.90" y1="52.40" x2="193.40" y2="55.40" stroke="#e8e8e8" stroke-width="0.9"/>
<circle cx="193.40" cy="55.40" r="1.2" fill="#f4f4f4" stroke="none" stroke-width="0.8"/>
<line x1="56.00" y1="75.40" x2="280.00" y2="75.40" stroke="#444" stroke-width="0.8"/>
<path d="M279.5,73.6 L283,75.4 L279.5,77.2 Z" fill="#444"/>
<text x="165.30" y="87.40" font-size="9.6" text-anchor="middle" fill="#222" textLength="45.4" lengthAdjust="spacingAndGlyphs">4 s per trial</text>
<rect x="67.00" y="100.60" width="7.90" height="7.80" fill="#000" stroke="none" stroke-width="0.8"/>
<text x="80.00" y="106.90" font-size="8.3" text-anchor="start" fill="#222" textLength="79" lengthAdjust="spacingAndGlyphs">Psychophysical test</text>
<rect x="173.30" y="100.90" width="7.40" height="7.40" fill="#8a8a8a" stroke="#555" stroke-width="0.6"/>
<text x="186.00" y="106.90" font-size="8.3" text-anchor="start" fill="#222" textLength="34.6" lengthAdjust="spacingAndGlyphs">fMRI test</text>
<rect x="234.80" y="100.80" width="7.30" height="7.50" fill="#fff" stroke="#666" stroke-width="0.8"/>
<text x="247.40" y="106.90" font-size="8.3" text-anchor="start" fill="#222" textLength="32" lengthAdjust="spacingAndGlyphs">Training</text>
<rect x="78.00" y="117.00" width="8.20" height="28.60" fill="#000" stroke="none" stroke-width="0.8"/>
<text x="82.10" y="155.20" font-size="8.2" text-anchor="middle" fill="#222">1</text>
<rect x="92.68" y="117.30" width="7.60" height="28.30" fill="#8a8a8a" stroke="#555" stroke-width="0.6"/>
<text x="96.48" y="155.20" font-size="8.2" text-anchor="middle" fill="#222">2</text>
<rect x="107.11" y="117.35" width="7.50" height="28.30" fill="#fff" stroke="#666" stroke-width="0.7"/>
<text x="110.86" y="155.20" font-size="8.2" text-anchor="middle" fill="#222">3</text>
<rect x="121.49" y="117.35" width="7.50" height="28.30" fill="#fff" stroke="#666" stroke-width="0.7"/>
<text x="125.24" y="155.20" font-size="8.2" text-anchor="middle" fill="#222">4</text>
<rect x="135.87" y="117.35" width="7.50" height="28.30" fill="#fff" stroke="#666" stroke-width="0.7"/>
<text x="139.62" y="155.20" font-size="8.2" text-anchor="middle" fill="#222">5</text>
<rect x="150.25" y="117.35" width="7.50" height="28.30" fill="#fff" stroke="#666" stroke-width="0.7"/>
<text x="154.00" y="155.20" font-size="8.2" text-anchor="middle" fill="#222">6</text>
<rect x="164.63" y="117.35" width="7.50" height="28.30" fill="#fff" stroke="#666" stroke-width="0.7"/>
<text x="168.38" y="155.20" font-size="8.2" text-anchor="middle" fill="#222">7</text>
<rect x="179.01" y="117.35" width="7.50" height="28.30" fill="#fff" stroke="#666" stroke-width="0.7"/>
<text x="182.76" y="155.20" font-size="8.2" text-anchor="middle" fill="#222">8</text>
<rect x="193.39" y="117.35" width="7.50" height="28.30" fill="#fff" stroke="#666" stroke-width="0.7"/>
<text x="197.14" y="155.20" font-size="8.2" text-anchor="middle" fill="#222">9</text>
<rect x="207.77" y="117.35" width="7.50" height="28.30" fill="#fff" stroke="#666" stroke-width="0.7"/>
<text x="211.52" y="155.20" font-size="8.2" text-anchor="middle" fill="#222">10</text>
<rect x="222.15" y="117.35" width="7.50" height="28.30" fill="#fff" stroke="#666" stroke-width="0.7"/>
<text x="225.90" y="155.20" font-size="8.2" text-anchor="middle" fill="#222">11</text>
<rect x="236.53" y="117.35" width="7.50" height="28.30" fill="#fff" stroke="#666" stroke-width="0.7"/>
<text x="240.28" y="155.20" font-size="8.2" text-anchor="middle" fill="#222">12</text>
<rect x="250.86" y="117.30" width="7.60" height="28.30" fill="#8a8a8a" stroke="#555" stroke-width="0.6"/>
<text x="254.66" y="155.20" font-size="8.2" text-anchor="middle" fill="#222">13</text>
<rect x="264.94" y="117.00" width="8.20" height="28.60" fill="#000" stroke="none" stroke-width="0.8"/>
<text x="269.04" y="155.20" font-size="8.2" text-anchor="middle" fill="#222">14</text>
<line x1="75.00" y1="145.70" x2="277.00" y2="145.70" stroke="#444" stroke-width="0.9"/>
<path d="M276.5,144 L280,145.7 L276.5,147.4 Z" fill="#444"/>
<text x="59.00" y="155.20" font-size="8.4" text-anchor="start" fill="#222" textLength="14.6" lengthAdjust="spacingAndGlyphs">Day</text>
<text x="0.00" y="180.20" font-size="12.8" text-anchor="start" fill="#000" font-weight="bold" stroke="#000" stroke-width="0.45">c</text>
<line x1="38.50" y1="190.00" x2="38.50" y2="339.60" stroke="#858585" stroke-width="1.0"/>
<line x1="35.90" y1="191.00" x2="38.50" y2="191.00" stroke="#858585" stroke-width="0.8"/>
<text x="31.50" y="193.60" font-size="7.6" text-anchor="end" fill="#333">1.00</text>
<line x1="35.90" y1="248.20" x2="38.50" y2="248.20" stroke="#858585" stroke-width="0.8"/>
<text x="31.50" y="250.80" font-size="7.6" text-anchor="end" fill="#333">0.75</text>
<line x1="35.90" y1="305.60" x2="38.50" y2="305.60" stroke="#858585" stroke-width="0.8"/>
<text x="31.50" y="308.20" font-size="7.6" text-anchor="end" fill="#333">0.50</text>
<text x="8.30" y="265.50" font-size="8.6" text-anchor="middle" fill="#222" textLength="78" lengthAdjust="spacingAndGlyphs" transform="rotate(-90 8.30 265.50)">Decoding accuracy</text>
<line x1="38.00" y1="339.50" x2="318.60" y2="339.50" stroke="#a0a0a0" stroke-width="1.0"/>
<line x1="68.60" y1="339.50" x2="68.60" y2="342.30" stroke="#a0a0a0" stroke-width="0.8"/>
<text x="68.60" y="353.00" font-size="8.2" text-anchor="middle" fill="#222">V1</text>
<line x1="112.60" y1="339.50" x2="112.60" y2="342.30" stroke="#a0a0a0" stroke-width="0.8"/>
<text x="112.60" y="353.00" font-size="8.2" text-anchor="middle" fill="#222">V2</text>
<line x1="156.60" y1="339.50" x2="156.60" y2="342.30" stroke="#a0a0a0" stroke-width="0.8"/>
<text x="156.60" y="353.00" font-size="8.2" text-anchor="middle" fill="#222">V3</text>
<line x1="200.60" y1="339.50" x2="200.60" y2="342.30" stroke="#a0a0a0" stroke-width="0.8"/>
<text x="200.60" y="353.00" font-size="8.2" text-anchor="middle" fill="#222">V3A</text>
<line x1="244.60" y1="339.50" x2="244.60" y2="342.30" stroke="#a0a0a0" stroke-width="0.8"/>
<text x="244.60" y="353.00" font-size="8.2" text-anchor="middle" fill="#222">hMT+</text>
<line x1="288.60" y1="339.50" x2="288.60" y2="342.30" stroke="#a0a0a0" stroke-width="0.8"/>
<text x="288.60" y="353.00" font-size="8.2" text-anchor="middle" fill="#222">IPS</text>
<rect x="51.60" y="297.00" width="15.00" height="42.60" fill="#c8cce7" stroke="#9aa0d4" stroke-width="0.8"/>
<rect x="70.40" y="298.00" width="15.00" height="41.60" fill="#f8bdd7" stroke="#f07eb0" stroke-width="0.8"/>
<rect x="95.60" y="296.20" width="15.00" height="43.40" fill="#c8cce7" stroke="#9aa0d4" stroke-width="0.8"/>
<rect x="114.40" y="296.20" width="15.00" height="43.40" fill="#f8bdd7" stroke="#f07eb0" stroke-width="0.8"/>
<rect x="139.60" y="296.20" width="15.00" height="43.40" fill="#c8cce7" stroke="#9aa0d4" stroke-width="0.8"/>
<rect x="158.40" y="298.20" width="15.00" height="41.40" fill="#f8bdd7" stroke="#f07eb0" stroke-width="0.8"/>
<rect x="183.60" y="302.20" width="15.00" height="37.40" fill="#c8cce7" stroke="#9aa0d4" stroke-width="0.8"/>
<rect x="202.40" y="296.20" width="15.00" height="43.40" fill="#f8bdd7" stroke="#f07eb0" stroke-width="0.8"/>
<rect x="227.60" y="305.20" width="15.00" height="34.40" fill="#c8cce7" stroke="#9aa0d4" stroke-width="0.8"/>
<rect x="246.40" y="299.40" width="15.00" height="40.20" fill="#f8bdd7" stroke="#f07eb0" stroke-width="0.8"/>
<rect x="271.60" y="302.20" width="15.00" height="37.40" fill="#c8cce7" stroke="#9aa0d4" stroke-width="0.8"/>
<rect x="290.40" y="304.20" width="15.00" height="35.40" fill="#f8bdd7" stroke="#f07eb0" stroke-width="0.8"/>
<line x1="183.00" y1="297.00" x2="218.00" y2="291.00" stroke="#d0d0d0" stroke-width="1.25" stroke-opacity="0.9"/>
<line x1="183.00" y1="302.00" x2="218.00" y2="293.00" stroke="#d0d0d0" stroke-width="1.25" stroke-opacity="0.9"/>
<line x1="183.00" y1="303.50" x2="218.00" y2="299.00" stroke="#d0d0d0" stroke-width="1.25" stroke-opacity="0.9"/>
<line x1="183.00" y1="304.00" x2="218.00" y2="300.00" stroke="#d0d0d0" stroke-width="1.25" stroke-opacity="0.9"/>
<line x1="183.00" y1="305.00" x2="218.00" y2="301.00" stroke="#d0d0d0" stroke-width="1.25" stroke-opacity="0.9"/>
<line x1="183.00" y1="306.50" x2="218.00" y2="295.00" stroke="#d0d0d0" stroke-width="1.25" stroke-opacity="0.9"/>
<line x1="183.00" y1="308.00" x2="218.00" y2="297.00" stroke="#d0d0d0" stroke-width="1.25" stroke-opacity="0.9"/>
<line x1="183.00" y1="309.50" x2="218.00" y2="308.00" stroke="#d0d0d0" stroke-width="1.25" stroke-opacity="0.9"/>
<line x1="183.00" y1="310.00" x2="218.00" y2="310.00" stroke="#d0d0d0" stroke-width="1.25" stroke-opacity="0.9"/>
<line x1="183.00" y1="311.00" x2="218.00" y2="283.60" stroke="#d0d0d0" stroke-width="1.25" stroke-opacity="0.9"/>
<line x1="183.00" y1="312.50" x2="218.00" y2="306.00" stroke="#d0d0d0" stroke-width="1.25" stroke-opacity="0.9"/>
<line x1="183.00" y1="314.00" x2="218.00" y2="303.00" stroke="#d0d0d0" stroke-width="1.25" stroke-opacity="0.9"/>
<line x1="183.00" y1="316.00" x2="218.00" y2="320.60" stroke="#d0d0d0" stroke-width="1.25" stroke-opacity="0.9"/>
<line x1="183.00" y1="318.00" x2="218.00" y2="316.00" stroke="#d0d0d0" stroke-width="1.25" stroke-opacity="0.9"/>
<line x1="183.00" y1="322.00" x2="218.00" y2="314.00" stroke="#d0d0d0" stroke-width="1.25" stroke-opacity="0.9"/>
<line x1="183.00" y1="329.00" x2="218.00" y2="312.00" stroke="#d0d0d0" stroke-width="1.25" stroke-opacity="0.9"/>
<circle cx="183.00" cy="297.00" r="2.15" fill="#6d77c6" stroke="#4a55b6" stroke-width="0.9"/>
<circle cx="183.00" cy="302.00" r="2.15" fill="#6d77c6" stroke="#4a55b6" stroke-width="0.9"/>
<circle cx="183.00" cy="303.50" r="2.15" fill="#6d77c6" stroke="#4a55b6" stroke-width="0.9"/>
<circle cx="183.00" cy="305.00" r="2.15" fill="#6d77c6" stroke="#4a55b6" stroke-width="0.9"/>
<circle cx="183.00" cy="306.50" r="2.15" fill="#6d77c6" stroke="#4a55b6" stroke-width="0.9"/>
<circle cx="183.00" cy="308.00" r="2.15" fill="#6d77c6" stroke="#4a55b6" stroke-width="0.9"/>
<circle cx="183.00" cy="309.50" r="2.15" fill="#6d77c6" stroke="#4a55b6" stroke-width="0.9"/>
<circle cx="183.00" cy="311.00" r="2.15" fill="#6d77c6" stroke="#4a55b6" stroke-width="0.9"/>
<circle cx="183.00" cy="312.50" r="2.15" fill="#6d77c6" stroke="#4a55b6" stroke-width="0.9"/>
<circle cx="183.00" cy="314.00" r="2.15" fill="#6d77c6" stroke="#4a55b6" stroke-width="0.9"/>
<circle cx="183.00" cy="316.00" r="2.15" fill="#6d77c6" stroke="#4a55b6" stroke-width="0.9"/>
<circle cx="183.00" cy="318.00" r="2.15" fill="#6d77c6" stroke="#4a55b6" stroke-width="0.9"/>
<circle cx="183.00" cy="322.00" r="2.15" fill="#6d77c6" stroke="#4a55b6" stroke-width="0.9"/>
<circle cx="183.00" cy="329.00" r="2.15" fill="#6d77c6" stroke="#4a55b6" stroke-width="0.9"/>
<circle cx="183.00" cy="304.00" r="2.15" fill="#6d77c6" stroke="#4a55b6" stroke-width="0.9"/>
<circle cx="183.00" cy="310.00" r="2.15" fill="#6d77c6" stroke="#4a55b6" stroke-width="0.9"/>
<circle cx="218.00" cy="283.60" r="2.15" fill="#ee5797" stroke="#e8307e" stroke-width="0.9"/>
<circle cx="218.00" cy="291.00" r="2.15" fill="#ee5797" stroke="#e8307e" stroke-width="0.9"/>
<circle cx="218.00" cy="293.00" r="2.15" fill="#ee5797" stroke="#e8307e" stroke-width="0.9"/>
<circle cx="218.00" cy="295.00" r="2.15" fill="#ee5797" stroke="#e8307e" stroke-width="0.9"/>
<circle cx="218.00" cy="297.00" r="2.15" fill="#ee5797" stroke="#e8307e" stroke-width="0.9"/>
<circle cx="218.00" cy="299.00" r="2.15" fill="#ee5797" stroke="#e8307e" stroke-width="0.9"/>
<circle cx="218.00" cy="301.00" r="2.15" fill="#ee5797" stroke="#e8307e" stroke-width="0.9"/>
<circle cx="218.00" cy="303.00" r="2.15" fill="#ee5797" stroke="#e8307e" stroke-width="0.9"/>
<circle cx="218.00" cy="308.00" r="2.15" fill="#ee5797" stroke="#e8307e" stroke-width="0.9"/>
<circle cx="218.00" cy="310.00" r="2.15" fill="#ee5797" stroke="#e8307e" stroke-width="0.9"/>
<circle cx="218.00" cy="312.00" r="2.15" fill="#ee5797" stroke="#e8307e" stroke-width="0.9"/>
<circle cx="218.00" cy="314.00" r="2.15" fill="#ee5797" stroke="#e8307e" stroke-width="0.9"/>
<circle cx="218.00" cy="316.00" r="2.15" fill="#ee5797" stroke="#e8307e" stroke-width="0.9"/>
<circle cx="218.00" cy="320.60" r="2.15" fill="#ee5797" stroke="#e8307e" stroke-width="0.9"/>
<circle cx="218.00" cy="306.00" r="2.15" fill="#ee5797" stroke="#e8307e" stroke-width="0.9"/>
<circle cx="218.00" cy="300.00" r="2.15" fill="#ee5797" stroke="#e8307e" stroke-width="0.9"/>
<line x1="183.00" y1="228.00" x2="218.00" y2="216.60" stroke="#d0d0d0" stroke-width="1.25" stroke-opacity="0.9"/>
<line x1="183.00" y1="238.60" x2="218.00" y2="243.40" stroke="#d0d0d0" stroke-width="1.25" stroke-opacity="0.9"/>
<circle cx="183.00" cy="228.00" r="2.15" fill="#6d77c6" stroke="#4a55b6" stroke-width="0.9"/>
<circle cx="183.00" cy="238.60" r="2.15" fill="#6d77c6" stroke="#4a55b6" stroke-width="0.9"/>
<circle cx="218.00" cy="216.60" r="2.15" fill="#ee5797" stroke="#e8307e" stroke-width="0.9"/>
<circle cx="218.00" cy="243.40" r="2.15" fill="#ee5797" stroke="#e8307e" stroke-width="0.9"/>
<line x1="227.00" y1="287.40" x2="262.20" y2="271.00" stroke="#d0d0d0" stroke-width="1.25" stroke-opacity="0.9"/>
<line x1="227.00" y1="292.00" x2="262.20" y2="273.60" stroke="#d0d0d0" stroke-width="1.25" stroke-opacity="0.9"/>
<line x1="227.00" y1="296.00" x2="262.20" y2="265.00" stroke="#d0d0d0" stroke-width="1.25" stroke-opacity="0.9"/>
<line x1="227.00" y1="298.00" x2="262.20" y2="286.00" stroke="#d0d0d0" stroke-width="1.25" stroke-opacity="0.9"/>
<line x1="227.00" y1="300.00" x2="262.20" y2="293.00" stroke="#d0d0d0" stroke-width="1.25" stroke-opacity="0.9"/>
<line x1="227.00" y1="302.00" x2="262.20" y2="295.50" stroke="#d0d0d0" stroke-width="1.25" stroke-opacity="0.9"/>
<line x1="227.00" y1="303.00" x2="262.20" y2="306.00" stroke="#d0d0d0" stroke-width="1.25" stroke-opacity="0.9"/>
<line x1="227.00" y1="304.00" x2="262.20" y2="300.50" stroke="#d0d0d0" stroke-width="1.25" stroke-opacity="0.9"/>
<line x1="227.00" y1="306.00" x2="262.20" y2="314.00" stroke="#d0d0d0" stroke-width="1.25" stroke-opacity="0.9"/>
<line x1="227.00" y1="308.00" x2="262.20" y2="298.00" stroke="#d0d0d0" stroke-width="1.25" stroke-opacity="0.9"/>
<line x1="227.00" y1="310.00" x2="262.20" y2="311.60" stroke="#d0d0d0" stroke-width="1.25" stroke-opacity="0.9"/>
<line x1="227.00" y1="312.00" x2="262.20" y2="303.00" stroke="#d0d0d0" stroke-width="1.25" stroke-opacity="0.9"/>
<line x1="227.00" y1="314.00" x2="262.20" y2="318.00" stroke="#d0d0d0" stroke-width="1.25" stroke-opacity="0.9"/>
<line x1="227.00" y1="320.00" x2="262.20" y2="320.00" stroke="#d0d0d0" stroke-width="1.25" stroke-opacity="0.9"/>
<line x1="227.00" y1="324.40" x2="262.20" y2="325.60" stroke="#d0d0d0" stroke-width="1.25" stroke-opacity="0.9"/>
<circle cx="227.00" cy="287.40" r="2.15" fill="#6d77c6" stroke="#4a55b6" stroke-width="0.9"/>
<circle cx="227.00" cy="292.00" r="2.15" fill="#6d77c6" stroke="#4a55b6" stroke-width="0.9"/>
<circle cx="227.00" cy="296.00" r="2.15" fill="#6d77c6" stroke="#4a55b6" stroke-width="0.9"/>
<circle cx="227.00" cy="300.00" r="2.15" fill="#6d77c6" stroke="#4a55b6" stroke-width="0.9"/>
<circle cx="227.00" cy="302.00" r="2.15" fill="#6d77c6" stroke="#4a55b6" stroke-width="0.9"/>
<circle cx="227.00" cy="304.00" r="2.15" fill="#6d77c6" stroke="#4a55b6" stroke-width="0.9"/>
<circle cx="227.00" cy="306.00" r="2.15" fill="#6d77c6" stroke="#4a55b6" stroke-width="0.9"/>
<circle cx="227.00" cy="308.00" r="2.15" fill="#6d77c6" stroke="#4a55b6" stroke-width="0.9"/>
<circle cx="227.00" cy="310.00" r="2.15" fill="#6d77c6" stroke="#4a55b6" stroke-width="0.9"/>
<circle cx="227.00" cy="312.00" r="2.15" fill="#6d77c6" stroke="#4a55b6" stroke-width="0.9"/>
<circle cx="227.00" cy="314.00" r="2.15" fill="#6d77c6" stroke="#4a55b6" stroke-width="0.9"/>
<circle cx="227.00" cy="320.00" r="2.15" fill="#6d77c6" stroke="#4a55b6" stroke-width="0.9"/>
<circle cx="227.00" cy="324.40" r="2.15" fill="#6d77c6" stroke="#4a55b6" stroke-width="0.9"/>
<circle cx="227.00" cy="298.00" r="2.15" fill="#6d77c6" stroke="#4a55b6" stroke-width="0.9"/>
<circle cx="227.00" cy="303.00" r="2.15" fill="#6d77c6" stroke="#4a55b6" stroke-width="0.9"/>
<circle cx="262.20" cy="265.00" r="2.15" fill="#ee5797" stroke="#e8307e" stroke-width="0.9"/>
<circle cx="262.20" cy="271.00" r="2.15" fill="#ee5797" stroke="#e8307e" stroke-width="0.9"/>
<circle cx="262.20" cy="273.60" r="2.15" fill="#ee5797" stroke="#e8307e" stroke-width="0.9"/>
<circle cx="262.20" cy="286.00" r="2.15" fill="#ee5797" stroke="#e8307e" stroke-width="0.9"/>
<circle cx="262.20" cy="293.00" r="2.15" fill="#ee5797" stroke="#e8307e" stroke-width="0.9"/>
<circle cx="262.20" cy="295.50" r="2.15" fill="#ee5797" stroke="#e8307e" stroke-width="0.9"/>
<circle cx="262.20" cy="298.00" r="2.15" fill="#ee5797" stroke="#e8307e" stroke-width="0.9"/>
<circle cx="262.20" cy="300.50" r="2.15" fill="#ee5797" stroke="#e8307e" stroke-width="0.9"/>
<circle cx="262.20" cy="303.00" r="2.15" fill="#ee5797" stroke="#e8307e" stroke-width="0.9"/>
<circle cx="262.20" cy="306.00" r="2.15" fill="#ee5797" stroke="#e8307e" stroke-width="0.9"/>
<circle cx="262.20" cy="311.60" r="2.15" fill="#ee5797" stroke="#e8307e" stroke-width="0.9"/>
<circle cx="262.20" cy="314.00" r="2.15" fill="#ee5797" stroke="#e8307e" stroke-width="0.9"/>
<circle cx="262.20" cy="318.00" r="2.15" fill="#ee5797" stroke="#e8307e" stroke-width="0.9"/>
<circle cx="262.20" cy="320.00" r="2.15" fill="#ee5797" stroke="#e8307e" stroke-width="0.9"/>
<circle cx="262.20" cy="325.60" r="2.15" fill="#ee5797" stroke="#e8307e" stroke-width="0.9"/>
<line x1="59.10" y1="291.40" x2="59.10" y2="302.60" stroke="#1a1a1a" stroke-width="1.8"/>
<line x1="78.00" y1="293.40" x2="78.00" y2="303.60" stroke="#1a1a1a" stroke-width="1.8"/>
<line x1="103.10" y1="290.60" x2="103.10" y2="302.00" stroke="#1a1a1a" stroke-width="1.8"/>
<line x1="122.00" y1="290.00" x2="122.00" y2="302.60" stroke="#1a1a1a" stroke-width="1.8"/>
<line x1="147.10" y1="290.40" x2="147.10" y2="302.00" stroke="#1a1a1a" stroke-width="1.8"/>
<line x1="166.00" y1="292.00" x2="166.00" y2="304.60" stroke="#1a1a1a" stroke-width="1.8"/>
<line x1="191.10" y1="297.00" x2="191.10" y2="307.60" stroke="#1a1a1a" stroke-width="1.8"/>
<line x1="210.00" y1="291.60" x2="210.00" y2="302.00" stroke="#1a1a1a" stroke-width="1.8"/>
<line x1="235.10" y1="303.60" x2="235.10" y2="307.60" stroke="#1a1a1a" stroke-width="1.8"/>
<line x1="254.00" y1="296.00" x2="254.00" y2="302.40" stroke="#1a1a1a" stroke-width="1.8"/>
<line x1="279.10" y1="300.40" x2="279.10" y2="304.40" stroke="#1a1a1a" stroke-width="1.8"/>
<line x1="298.00" y1="301.00" x2="298.00" y2="307.40" stroke="#1a1a1a" stroke-width="1.8"/>
<line x1="183.00" y1="202.70" x2="215.60" y2="202.70" stroke="#3a3a3a" stroke-width="0.95"/>
<text x="199.30" y="199.20" font-size="8.3" text-anchor="middle" fill="#333" textLength="27.2" lengthAdjust="spacingAndGlyphs"><tspan font-style="italic">P</tspan> = 0.03</text>
<line x1="228.00" y1="202.70" x2="261.00" y2="202.70" stroke="#3a3a3a" stroke-width="0.95"/>
<text x="244.50" y="199.20" font-size="8.3" text-anchor="middle" fill="#333" textLength="27.2" lengthAdjust="spacingAndGlyphs"><tspan font-style="italic">P</tspan> = 0.03</text>
<text x="352.50" y="180.80" font-size="12.8" text-anchor="start" fill="#000" font-weight="bold" stroke="#000" stroke-width="0.45">d</text>
<line x1="385.50" y1="190.60" x2="385.50" y2="339.40" stroke="#858585" stroke-width="1.0"/>
<line x1="382.90" y1="251.20" x2="385.50" y2="251.20" stroke="#858585" stroke-width="0.8"/>
<text x="378.50" y="253.80" font-size="7.6" text-anchor="end" fill="#333">2.0</text>
<line x1="382.90" y1="277.60" x2="385.50" y2="277.60" stroke="#858585" stroke-width="0.8"/>
<text x="378.50" y="280.20" font-size="7.6" text-anchor="end" fill="#333">1.0</text>
<line x1="382.90" y1="304.00" x2="385.50" y2="304.00" stroke="#858585" stroke-width="0.8"/>
<text x="378.50" y="306.60" font-size="7.6" text-anchor="end" fill="#333">0.5</text>
<line x1="382.90" y1="339.40" x2="385.50" y2="339.40" stroke="#858585" stroke-width="0.8"/>
<text x="378.50" y="342.00" font-size="7.6" text-anchor="end" fill="#333">0.2</text>
<text x="385.60" y="188.60" font-size="7.2" text-anchor="start" fill="#333" textLength="13.4" lengthAdjust="spacingAndGlyphs">1e-2</text>
<text x="360.5" y="265.5" font-size="8.6" text-anchor="middle" fill="#222" transform="rotate(-90 360.5 265.5)">aLFI (rad<tspan dy="-3" font-size="6">−2</tspan><tspan dy="3">)</tspan></text>
<line x1="385.60" y1="339.50" x2="665.00" y2="339.50" stroke="#a0a0a0" stroke-width="1.0"/>
<line x1="415.40" y1="339.50" x2="415.40" y2="342.30" stroke="#a0a0a0" stroke-width="0.8"/>
<text x="415.40" y="353.00" font-size="8.2" text-anchor="middle" fill="#222">V1</text>
<line x1="459.40" y1="339.50" x2="459.40" y2="342.30" stroke="#a0a0a0" stroke-width="0.8"/>
<text x="459.40" y="353.00" font-size="8.2" text-anchor="middle" fill="#222">V2</text>
<line x1="503.40" y1="339.50" x2="503.40" y2="342.30" stroke="#a0a0a0" stroke-width="0.8"/>
<text x="503.40" y="353.00" font-size="8.2" text-anchor="middle" fill="#222">V3</text>
<line x1="547.40" y1="339.50" x2="547.40" y2="342.30" stroke="#a0a0a0" stroke-width="0.8"/>
<text x="547.40" y="353.00" font-size="8.2" text-anchor="middle" fill="#222">V3A</text>
<line x1="591.40" y1="339.50" x2="591.40" y2="342.30" stroke="#a0a0a0" stroke-width="0.8"/>
<text x="591.40" y="353.00" font-size="8.2" text-anchor="middle" fill="#222">hMT+</text>
<line x1="635.40" y1="339.50" x2="635.40" y2="342.30" stroke="#a0a0a0" stroke-width="0.8"/>
<text x="635.40" y="353.00" font-size="8.2" text-anchor="middle" fill="#222">IPS</text>
<rect x="398.20" y="260.20" width="15.40" height="79.20" fill="#c8cce7" stroke="#9aa0d4" stroke-width="0.8"/>
<rect x="417.20" y="263.00" width="15.40" height="76.40" fill="#f8bdd7" stroke="#f07eb0" stroke-width="0.8"/>
<rect x="442.20" y="258.00" width="15.40" height="81.40" fill="#c8cce7" stroke="#9aa0d4" stroke-width="0.8"/>
<rect x="461.20" y="255.00" width="15.40" height="84.40" fill="#f8bdd7" stroke="#f07eb0" stroke-width="0.8"/>
<rect x="486.20" y="258.20" width="15.40" height="81.20" fill="#c8cce7" stroke="#9aa0d4" stroke-width="0.8"/>
<rect x="505.20" y="257.20" width="15.40" height="82.20" fill="#f8bdd7" stroke="#f07eb0" stroke-width="0.8"/>
<rect x="530.20" y="267.20" width="15.40" height="72.20" fill="#c8cce7" stroke="#9aa0d4" stroke-width="0.8"/>
<rect x="549.20" y="262.30" width="15.40" height="77.10" fill="#f8bdd7" stroke="#f07eb0" stroke-width="0.8"/>
<rect x="574.20" y="279.60" width="15.40" height="59.80" fill="#c8cce7" stroke="#9aa0d4" stroke-width="0.8"/>
<rect x="593.20" y="273.20" width="15.40" height="66.20" fill="#f8bdd7" stroke="#f07eb0" stroke-width="0.8"/>
<rect x="618.20" y="278.20" width="15.40" height="61.20" fill="#c8cce7" stroke="#9aa0d4" stroke-width="0.8"/>
<rect x="637.20" y="276.20" width="15.40" height="63.20" fill="#f8bdd7" stroke="#f07eb0" stroke-width="0.8"/>
<line x1="529.80" y1="276.30" x2="565.20" y2="262.80" stroke="#d0d0d0" stroke-width="1.25" stroke-opacity="0.9"/>
<line x1="529.80" y1="278.00" x2="565.20" y2="267.20" stroke="#d0d0d0" stroke-width="1.25" stroke-opacity="0.9"/>
<line x1="529.80" y1="280.00" x2="565.20" y2="270.00" stroke="#d0d0d0" stroke-width="1.25" stroke-opacity="0.9"/>
<line x1="529.80" y1="281.00" x2="565.20" y2="272.00" stroke="#d0d0d0" stroke-width="1.25" stroke-opacity="0.9"/>
<line x1="529.80" y1="282.00" x2="565.20" y2="276.00" stroke="#d0d0d0" stroke-width="1.25" stroke-opacity="0.9"/>
<line x1="529.80" y1="284.00" x2="565.20" y2="274.00" stroke="#d0d0d0" stroke-width="1.25" stroke-opacity="0.9"/>
<line x1="529.80" y1="286.00" x2="565.20" y2="278.00" stroke="#d0d0d0" stroke-width="1.25" stroke-opacity="0.9"/>
<line x1="529.80" y1="287.00" x2="565.20" y2="286.00" stroke="#d0d0d0" stroke-width="1.25" stroke-opacity="0.9"/>
<line x1="529.80" y1="288.00" x2="565.20" y2="280.00" stroke="#d0d0d0" stroke-width="1.25" stroke-opacity="0.9"/>
<line x1="529.80" y1="290.00" x2="565.20" y2="284.00" stroke="#d0d0d0" stroke-width="1.25" stroke-opacity="0.9"/>
<line x1="529.80" y1="292.00" x2="565.20" y2="282.00" stroke="#d0d0d0" stroke-width="1.25" stroke-opacity="0.9"/>
<line x1="529.80" y1="293.70" x2="565.20" y2="290.00" stroke="#d0d0d0" stroke-width="1.25" stroke-opacity="0.9"/>
<line x1="529.80" y1="296.50" x2="565.20" y2="288.00" stroke="#d0d0d0" stroke-width="1.25" stroke-opacity="0.9"/>
<line x1="529.80" y1="302.00" x2="565.20" y2="292.90" stroke="#d0d0d0" stroke-width="1.25" stroke-opacity="0.9"/>
<circle cx="529.80" cy="276.30" r="2.15" fill="#6d77c6" stroke="#4a55b6" stroke-width="0.9"/>
<circle cx="529.80" cy="278.00" r="2.15" fill="#6d77c6" stroke="#4a55b6" stroke-width="0.9"/>
<circle cx="529.80" cy="280.00" r="2.15" fill="#6d77c6" stroke="#4a55b6" stroke-width="0.9"/>
<circle cx="529.80" cy="282.00" r="2.15" fill="#6d77c6" stroke="#4a55b6" stroke-width="0.9"/>
<circle cx="529.80" cy="284.00" r="2.15" fill="#6d77c6" stroke="#4a55b6" stroke-width="0.9"/>
<circle cx="529.80" cy="286.00" r="2.15" fill="#6d77c6" stroke="#4a55b6" stroke-width="0.9"/>
<circle cx="529.80" cy="288.00" r="2.15" fill="#6d77c6" stroke="#4a55b6" stroke-width="0.9"/>
<circle cx="529.80" cy="290.00" r="2.15" fill="#6d77c6" stroke="#4a55b6" stroke-width="0.9"/>
<circle cx="529.80" cy="292.00" r="2.15" fill="#6d77c6" stroke="#4a55b6" stroke-width="0.9"/>
<circle cx="529.80" cy="293.70" r="2.15" fill="#6d77c6" stroke="#4a55b6" stroke-width="0.9"/>
<circle cx="529.80" cy="296.50" r="2.15" fill="#6d77c6" stroke="#4a55b6" stroke-width="0.9"/>
<circle cx="529.80" cy="302.00" r="2.15" fill="#6d77c6" stroke="#4a55b6" stroke-width="0.9"/>
<circle cx="529.80" cy="281.00" r="2.15" fill="#6d77c6" stroke="#4a55b6" stroke-width="0.9"/>
<circle cx="529.80" cy="287.00" r="2.15" fill="#6d77c6" stroke="#4a55b6" stroke-width="0.9"/>
<circle cx="565.20" cy="262.80" r="2.15" fill="#ee5797" stroke="#e8307e" stroke-width="0.9"/>
<circle cx="565.20" cy="267.20" r="2.15" fill="#ee5797" stroke="#e8307e" stroke-width="0.9"/>
<circle cx="565.20" cy="270.00" r="2.15" fill="#ee5797" stroke="#e8307e" stroke-width="0.9"/>
<circle cx="565.20" cy="272.00" r="2.15" fill="#ee5797" stroke="#e8307e" stroke-width="0.9"/>
<circle cx="565.20" cy="274.00" r="2.15" fill="#ee5797" stroke="#e8307e" stroke-width="0.9"/>
<circle cx="565.20" cy="276.00" r="2.15" fill="#ee5797" stroke="#e8307e" stroke-width="0.9"/>
<circle cx="565.20" cy="278.00" r="2.15" fill="#ee5797" stroke="#e8307e" stroke-width="0.9"/>
<circle cx="565.20" cy="280.00" r="2.15" fill="#ee5797" stroke="#e8307e" stroke-width="0.9"/>
<circle cx="565.20" cy="282.00" r="2.15" fill="#ee5797" stroke="#e8307e" stroke-width="0.9"/>
<circle cx="565.20" cy="284.00" r="2.15" fill="#ee5797" stroke="#e8307e" stroke-width="0.9"/>
<circle cx="565.20" cy="286.00" r="2.15" fill="#ee5797" stroke="#e8307e" stroke-width="0.9"/>
<circle cx="565.20" cy="288.00" r="2.15" fill="#ee5797" stroke="#e8307e" stroke-width="0.9"/>
<circle cx="565.20" cy="290.00" r="2.15" fill="#ee5797" stroke="#e8307e" stroke-width="0.9"/>
<circle cx="565.20" cy="292.90" r="2.15" fill="#ee5797" stroke="#e8307e" stroke-width="0.9"/>
<line x1="529.80" y1="202.40" x2="565.20" y2="196.00" stroke="#d0d0d0" stroke-width="1.25" stroke-opacity="0.9"/>
<line x1="529.80" y1="218.20" x2="565.20" y2="217.60" stroke="#d0d0d0" stroke-width="1.25" stroke-opacity="0.9"/>
<circle cx="529.80" cy="202.40" r="2.15" fill="#6d77c6" stroke="#4a55b6" stroke-width="0.9"/>
<circle cx="529.80" cy="218.20" r="2.15" fill="#6d77c6" stroke="#4a55b6" stroke-width="0.9"/>
<circle cx="565.20" cy="196.00" r="2.15" fill="#ee5797" stroke="#e8307e" stroke-width="0.9"/>
<circle cx="565.20" cy="217.60" r="2.15" fill="#ee5797" stroke="#e8307e" stroke-width="0.9"/>
<line x1="573.60" y1="265.60" x2="609.40" y2="251.50" stroke="#d0d0d0" stroke-width="1.25" stroke-opacity="0.9"/>
<line x1="573.60" y1="267.20" x2="609.40" y2="268.90" stroke="#d0d0d0" stroke-width="1.25" stroke-opacity="0.9"/>
<line x1="573.60" y1="269.00" x2="609.40" y2="270.50" stroke="#d0d0d0" stroke-width="1.25" stroke-opacity="0.9"/>
<line x1="573.60" y1="271.00" x2="609.40" y2="274.50" stroke="#d0d0d0" stroke-width="1.25" stroke-opacity="0.9"/>
<line x1="573.60" y1="273.00" x2="609.40" y2="276.50" stroke="#d0d0d0" stroke-width="1.25" stroke-opacity="0.9"/>
<line x1="573.60" y1="275.00" x2="609.40" y2="272.50" stroke="#d0d0d0" stroke-width="1.25" stroke-opacity="0.9"/>
<line x1="573.60" y1="277.00" x2="609.40" y2="249.00" stroke="#d0d0d0" stroke-width="1.25" stroke-opacity="0.9"/>
<line x1="573.60" y1="279.00" x2="609.40" y2="282.50" stroke="#d0d0d0" stroke-width="1.25" stroke-opacity="0.9"/>
<line x1="573.60" y1="281.00" x2="609.40" y2="243.00" stroke="#d0d0d0" stroke-width="1.25" stroke-opacity="0.9"/>
<line x1="573.60" y1="283.00" x2="609.40" y2="280.50" stroke="#d0d0d0" stroke-width="1.25" stroke-opacity="0.9"/>
<line x1="573.60" y1="285.00" x2="609.40" y2="278.50" stroke="#d0d0d0" stroke-width="1.25" stroke-opacity="0.9"/>
<line x1="573.60" y1="287.00" x2="609.40" y2="284.50" stroke="#d0d0d0" stroke-width="1.25" stroke-opacity="0.9"/>
<line x1="573.60" y1="289.00" x2="609.40" y2="287.00" stroke="#d0d0d0" stroke-width="1.25" stroke-opacity="0.9"/>
<line x1="573.60" y1="291.00" x2="609.40" y2="289.50" stroke="#d0d0d0" stroke-width="1.25" stroke-opacity="0.9"/>
<line x1="573.60" y1="295.30" x2="609.40" y2="292.00" stroke="#d0d0d0" stroke-width="1.25" stroke-opacity="0.9"/>
<line x1="573.60" y1="303.60" x2="609.40" y2="296.20" stroke="#d0d0d0" stroke-width="1.25" stroke-opacity="0.9"/>
<circle cx="573.60" cy="265.60" r="2.15" fill="#6d77c6" stroke="#4a55b6" stroke-width="0.9"/>
<circle cx="573.60" cy="267.20" r="2.15" fill="#6d77c6" stroke="#4a55b6" stroke-width="0.9"/>
<circle cx="573.60" cy="269.00" r="2.15" fill="#6d77c6" stroke="#4a55b6" stroke-width="0.9"/>
<circle cx="573.60" cy="271.00" r="2.15" fill="#6d77c6" stroke="#4a55b6" stroke-width="0.9"/>
<circle cx="573.60" cy="273.00" r="2.15" fill="#6d77c6" stroke="#4a55b6" stroke-width="0.9"/>
<circle cx="573.60" cy="275.00" r="2.15" fill="#6d77c6" stroke="#4a55b6" stroke-width="0.9"/>
<circle cx="573.60" cy="277.00" r="2.15" fill="#6d77c6" stroke="#4a55b6" stroke-width="0.9"/>
<circle cx="573.60" cy="279.00" r="2.15" fill="#6d77c6" stroke="#4a55b6" stroke-width="0.9"/>
<circle cx="573.60" cy="281.00" r="2.15" fill="#6d77c6" stroke="#4a55b6" stroke-width="0.9"/>
<circle cx="573.60" cy="283.00" r="2.15" fill="#6d77c6" stroke="#4a55b6" stroke-width="0.9"/>
<circle cx="573.60" cy="285.00" r="2.15" fill="#6d77c6" stroke="#4a55b6" stroke-width="0.9"/>
<circle cx="573.60" cy="287.00" r="2.15" fill="#6d77c6" stroke="#4a55b6" stroke-width="0.9"/>
<circle cx="573.60" cy="289.00" r="2.15" fill="#6d77c6" stroke="#4a55b6" stroke-width="0.9"/>
<circle cx="573.60" cy="291.00" r="2.15" fill="#6d77c6" stroke="#4a55b6" stroke-width="0.9"/>
<circle cx="573.60" cy="295.30" r="2.15" fill="#6d77c6" stroke="#4a55b6" stroke-width="0.9"/>
<circle cx="573.60" cy="303.60" r="2.15" fill="#6d77c6" stroke="#4a55b6" stroke-width="0.9"/>
<circle cx="609.40" cy="243.00" r="2.15" fill="#ee5797" stroke="#e8307e" stroke-width="0.9"/>
<circle cx="609.40" cy="249.00" r="2.15" fill="#ee5797" stroke="#e8307e" stroke-width="0.9"/>
<circle cx="609.40" cy="251.50" r="2.15" fill="#ee5797" stroke="#e8307e" stroke-width="0.9"/>
<circle cx="609.40" cy="268.90" r="2.15" fill="#ee5797" stroke="#e8307e" stroke-width="0.9"/>
<circle cx="609.40" cy="270.50" r="2.15" fill="#ee5797" stroke="#e8307e" stroke-width="0.9"/>
<circle cx="609.40" cy="272.50" r="2.15" fill="#ee5797" stroke="#e8307e" stroke-width="0.9"/>
<circle cx="609.40" cy="274.50" r="2.15" fill="#ee5797" stroke="#e8307e" stroke-width="0.9"/>
<circle cx="609.40" cy="276.50" r="2.15" fill="#ee5797" stroke="#e8307e" stroke-width="0.9"/>
<circle cx="609.40" cy="278.50" r="2.15" fill="#ee5797" stroke="#e8307e" stroke-width="0.9"/>
<circle cx="609.40" cy="280.50" r="2.15" fill="#ee5797" stroke="#e8307e" stroke-width="0.9"/>
<circle cx="609.40" cy="282.50" r="2.15" fill="#ee5797" stroke="#e8307e" stroke-width="0.9"/>
<circle cx="609.40" cy="284.50" r="2.15" fill="#ee5797" stroke="#e8307e" stroke-width="0.9"/>
<circle cx="609.40" cy="287.00" r="2.15" fill="#ee5797" stroke="#e8307e" stroke-width="0.9"/>
<circle cx="609.40" cy="289.50" r="2.15" fill="#ee5797" stroke="#e8307e" stroke-width="0.9"/>
<circle cx="609.40" cy="292.00" r="2.15" fill="#ee5797" stroke="#e8307e" stroke-width="0.9"/>
<circle cx="609.40" cy="296.20" r="2.15" fill="#ee5797" stroke="#e8307e" stroke-width="0.9"/>
<line x1="406.00" y1="251.60" x2="406.00" y2="273.00" stroke="#1a1a1a" stroke-width="1.8"/>
<line x1="425.00" y1="255.60" x2="425.00" y2="274.00" stroke="#1a1a1a" stroke-width="1.8"/>
<line x1="450.00" y1="249.40" x2="450.00" y2="272.40" stroke="#1a1a1a" stroke-width="1.8"/>
<line x1="469.00" y1="245.40" x2="469.00" y2="270.40" stroke="#1a1a1a" stroke-width="1.8"/>
<line x1="494.00" y1="249.40" x2="494.00" y2="272.40" stroke="#1a1a1a" stroke-width="1.8"/>
<line x1="513.00" y1="247.00" x2="513.00" y2="273.60" stroke="#1a1a1a" stroke-width="1.8"/>
<line x1="538.00" y1="259.40" x2="538.00" y2="278.60" stroke="#1a1a1a" stroke-width="1.8"/>
<line x1="557.00" y1="254.00" x2="557.00" y2="273.60" stroke="#1a1a1a" stroke-width="1.8"/>
<line x1="582.00" y1="278.60" x2="582.00" y2="282.60" stroke="#1a1a1a" stroke-width="1.8"/>
<line x1="601.00" y1="270.60" x2="601.00" y2="277.40" stroke="#1a1a1a" stroke-width="1.8"/>
<line x1="626.00" y1="277.00" x2="626.00" y2="280.20" stroke="#1a1a1a" stroke-width="1.8"/>
<line x1="645.00" y1="273.40" x2="645.00" y2="280.60" stroke="#1a1a1a" stroke-width="1.8"/>
<line x1="530.40" y1="182.70" x2="563.20" y2="182.70" stroke="#3a3a3a" stroke-width="0.95"/>
<text x="546.80" y="179.20" font-size="8.3" text-anchor="middle" fill="#333" textLength="27.2" lengthAdjust="spacingAndGlyphs"><tspan font-style="italic">P</tspan> = 0.01</text>
<line x1="575.60" y1="182.70" x2="608.60" y2="182.70" stroke="#3a3a3a" stroke-width="0.95"/>
<text x="592.10" y="179.20" font-size="8.3" text-anchor="middle" fill="#333" textLength="27.2" lengthAdjust="spacingAndGlyphs"><tspan font-style="italic">P</tspan> = 0.03</text>
<text x="-0.50" y="377.30" font-size="12.8" text-anchor="start" fill="#000" font-weight="bold" stroke="#000" stroke-width="0.45">e</text>
<line x1="36.50" y1="384.60" x2="36.50" y2="492.40" stroke="#858585" stroke-width="1.0"/>
<line x1="33.90" y1="393.00" x2="36.50" y2="393.00" stroke="#858585" stroke-width="0.8"/>
<text x="29.50" y="395.60" font-size="7.6" text-anchor="end" fill="#333">1.0</text>
<line x1="33.90" y1="442.40" x2="36.50" y2="442.40" stroke="#858585" stroke-width="0.8"/>
<text x="29.50" y="445.00" font-size="7.6" text-anchor="end" fill="#333">0.1</text>
<line x1="33.90" y1="492.40" x2="36.50" y2="492.40" stroke="#858585" stroke-width="0.8"/>
<text x="29.50" y="495.00" font-size="7.6" text-anchor="end" fill="#333">0.01</text>
<text x="8.6" y="438.5" font-size="8.4" text-anchor="middle" fill="#222" transform="rotate(-90 8.6 438.5)" textLength="95" lengthAdjust="spacingAndGlyphs">Signal separation (PSC)</text>
<line x1="36.60" y1="492.50" x2="102.60" y2="492.50" stroke="#a0a0a0" stroke-width="1.0"/>
<line x1="51.40" y1="492.50" x2="51.40" y2="495.30" stroke="#a0a0a0" stroke-width="0.8"/>
<text x="51.40" y="506.00" font-size="8.2" text-anchor="middle" fill="#222">V3A</text>
<line x1="87.40" y1="492.50" x2="87.40" y2="495.30" stroke="#a0a0a0" stroke-width="0.8"/>
<text x="87.40" y="506.00" font-size="8.2" text-anchor="middle" fill="#222">hMT+</text>
<rect x="39.20" y="413.40" width="11.40" height="79.00" fill="#c8cce7" stroke="#9aa0d4" stroke-width="0.8"/>
<rect x="52.20" y="418.20" width="11.40" height="74.20" fill="#f8bdd7" stroke="#f07eb0" stroke-width="0.8"/>
<rect x="75.60" y="413.40" width="11.20" height="79.00" fill="#c8cce7" stroke="#9aa0d4" stroke-width="0.8"/>
<rect x="88.20" y="419.00" width="11.40" height="73.40" fill="#f8bdd7" stroke="#f07eb0" stroke-width="0.8"/>
<line x1="40.60" y1="387.00" x2="62.00" y2="387.60" stroke="#d0d0d0" stroke-width="1.25" stroke-opacity="0.9"/>
<line x1="40.60" y1="392.40" x2="62.00" y2="411.00" stroke="#d0d0d0" stroke-width="1.25" stroke-opacity="0.9"/>
<line x1="40.60" y1="406.00" x2="62.00" y2="413.00" stroke="#d0d0d0" stroke-width="1.25" stroke-opacity="0.9"/>
<line x1="40.60" y1="409.00" x2="62.00" y2="408.00" stroke="#d0d0d0" stroke-width="1.25" stroke-opacity="0.9"/>
<line x1="40.60" y1="411.00" x2="62.00" y2="392.00" stroke="#d0d0d0" stroke-width="1.25" stroke-opacity="0.9"/>
<line x1="40.60" y1="413.00" x2="62.00" y2="415.00" stroke="#d0d0d0" stroke-width="1.25" stroke-opacity="0.9"/>
<line x1="40.60" y1="415.00" x2="62.00" y2="414.00" stroke="#d0d0d0" stroke-width="1.25" stroke-opacity="0.9"/>
<line x1="40.60" y1="417.00" x2="62.00" y2="418.00" stroke="#d0d0d0" stroke-width="1.25" stroke-opacity="0.9"/>
<line x1="40.60" y1="419.00" x2="62.00" y2="421.00" stroke="#d0d0d0" stroke-width="1.25" stroke-opacity="0.9"/>
<line x1="40.60" y1="421.00" x2="62.00" y2="419.00" stroke="#d0d0d0" stroke-width="1.25" stroke-opacity="0.9"/>
<line x1="40.60" y1="423.00" x2="62.00" y2="423.00" stroke="#d0d0d0" stroke-width="1.25" stroke-opacity="0.9"/>
<line x1="40.60" y1="425.00" x2="62.00" y2="397.60" stroke="#d0d0d0" stroke-width="1.25" stroke-opacity="0.9"/>
<line x1="40.60" y1="428.00" x2="62.00" y2="431.00" stroke="#d0d0d0" stroke-width="1.25" stroke-opacity="0.9"/>
<line x1="40.60" y1="431.00" x2="62.00" y2="448.40" stroke="#d0d0d0" stroke-width="1.25" stroke-opacity="0.9"/>
<line x1="40.60" y1="434.00" x2="62.00" y2="417.00" stroke="#d0d0d0" stroke-width="1.25" stroke-opacity="0.9"/>
<line x1="40.60" y1="436.60" x2="62.00" y2="426.00" stroke="#d0d0d0" stroke-width="1.25" stroke-opacity="0.9"/>
<circle cx="40.60" cy="387.00" r="2.15" fill="#6d77c6" stroke="#4a55b6" stroke-width="0.9"/>
<circle cx="40.60" cy="392.40" r="2.15" fill="#6d77c6" stroke="#4a55b6" stroke-width="0.9"/>
<circle cx="40.60" cy="406.00" r="2.15" fill="#6d77c6" stroke="#4a55b6" stroke-width="0.9"/>
<circle cx="40.60" cy="409.00" r="2.15" fill="#6d77c6" stroke="#4a55b6" stroke-width="0.9"/>
<circle cx="40.60" cy="411.00" r="2.15" fill="#6d77c6" stroke="#4a55b6" stroke-width="0.9"/>
<circle cx="40.60" cy="413.00" r="2.15" fill="#6d77c6" stroke="#4a55b6" stroke-width="0.9"/>
<circle cx="40.60" cy="415.00" r="2.15" fill="#6d77c6" stroke="#4a55b6" stroke-width="0.9"/>
<circle cx="40.60" cy="417.00" r="2.15" fill="#6d77c6" stroke="#4a55b6" stroke-width="0.9"/>
<circle cx="40.60" cy="419.00" r="2.15" fill="#6d77c6" stroke="#4a55b6" stroke-width="0.9"/>
<circle cx="40.60" cy="421.00" r="2.15" fill="#6d77c6" stroke="#4a55b6" stroke-width="0.9"/>
<circle cx="40.60" cy="423.00" r="2.15" fill="#6d77c6" stroke="#4a55b6" stroke-width="0.9"/>
<circle cx="40.60" cy="425.00" r="2.15" fill="#6d77c6" stroke="#4a55b6" stroke-width="0.9"/>
<circle cx="40.60" cy="428.00" r="2.15" fill="#6d77c6" stroke="#4a55b6" stroke-width="0.9"/>
<circle cx="40.60" cy="431.00" r="2.15" fill="#6d77c6" stroke="#4a55b6" stroke-width="0.9"/>
<circle cx="40.60" cy="434.00" r="2.15" fill="#6d77c6" stroke="#4a55b6" stroke-width="0.9"/>
<circle cx="40.60" cy="436.60" r="2.15" fill="#6d77c6" stroke="#4a55b6" stroke-width="0.9"/>
<circle cx="62.00" cy="387.60" r="2.15" fill="#ee5797" stroke="#e8307e" stroke-width="0.9"/>
<circle cx="62.00" cy="392.00" r="2.15" fill="#ee5797" stroke="#e8307e" stroke-width="0.9"/>
<circle cx="62.00" cy="397.60" r="2.15" fill="#ee5797" stroke="#e8307e" stroke-width="0.9"/>
<circle cx="62.00" cy="408.00" r="2.15" fill="#ee5797" stroke="#e8307e" stroke-width="0.9"/>
<circle cx="62.00" cy="411.00" r="2.15" fill="#ee5797" stroke="#e8307e" stroke-width="0.9"/>
<circle cx="62.00" cy="413.00" r="2.15" fill="#ee5797" stroke="#e8307e" stroke-width="0.9"/>
<circle cx="62.00" cy="415.00" r="2.15" fill="#ee5797" stroke="#e8307e" stroke-width="0.9"/>
<circle cx="62.00" cy="417.00" r="2.15" fill="#ee5797" stroke="#e8307e" stroke-width="0.9"/>
<circle cx="62.00" cy="419.00" r="2.15" fill="#ee5797" stroke="#e8307e" stroke-width="0.9"/>
<circle cx="62.00" cy="421.00" r="2.15" fill="#ee5797" stroke="#e8307e" stroke-width="0.9"/>
<circle cx="62.00" cy="423.00" r="2.15" fill="#ee5797" stroke="#e8307e" stroke-width="0.9"/>
<circle cx="62.00" cy="426.00" r="2.15" fill="#ee5797" stroke="#e8307e" stroke-width="0.9"/>
<circle cx="62.00" cy="431.00" r="2.15" fill="#ee5797" stroke="#e8307e" stroke-width="0.9"/>
<circle cx="62.00" cy="448.40" r="2.15" fill="#ee5797" stroke="#e8307e" stroke-width="0.9"/>
<circle cx="62.00" cy="414.00" r="2.15" fill="#ee5797" stroke="#e8307e" stroke-width="0.9"/>
<circle cx="62.00" cy="418.00" r="2.15" fill="#ee5797" stroke="#e8307e" stroke-width="0.9"/>
<line x1="76.60" y1="404.00" x2="98.40" y2="414.00" stroke="#d0d0d0" stroke-width="1.25" stroke-opacity="0.9"/>
<line x1="76.60" y1="407.00" x2="98.40" y2="400.60" stroke="#d0d0d0" stroke-width="1.25" stroke-opacity="0.9"/>
<line x1="76.60" y1="409.50" x2="98.40" y2="392.40" stroke="#d0d0d0" stroke-width="1.25" stroke-opacity="0.9"/>
<line x1="76.60" y1="412.00" x2="98.40" y2="416.00" stroke="#d0d0d0" stroke-width="1.25" stroke-opacity="0.9"/>
<line x1="76.60" y1="414.50" x2="98.40" y2="420.00" stroke="#d0d0d0" stroke-width="1.25" stroke-opacity="0.9"/>
<line x1="76.60" y1="415.50" x2="98.40" y2="419.00" stroke="#d0d0d0" stroke-width="1.25" stroke-opacity="0.9"/>
<line x1="76.60" y1="417.00" x2="98.40" y2="418.00" stroke="#d0d0d0" stroke-width="1.25" stroke-opacity="0.9"/>
<line x1="76.60" y1="419.50" x2="98.40" y2="424.00" stroke="#d0d0d0" stroke-width="1.25" stroke-opacity="0.9"/>
<line x1="76.60" y1="421.00" x2="98.40" y2="425.00" stroke="#d0d0d0" stroke-width="1.25" stroke-opacity="0.9"/>
<line x1="76.60" y1="422.00" x2="98.40" y2="430.00" stroke="#d0d0d0" stroke-width="1.25" stroke-opacity="0.9"/>
<line x1="76.60" y1="424.50" x2="98.40" y2="422.00" stroke="#d0d0d0" stroke-width="1.25" stroke-opacity="0.9"/>
<line x1="76.60" y1="427.00" x2="98.40" y2="428.00" stroke="#d0d0d0" stroke-width="1.25" stroke-opacity="0.9"/>
<line x1="76.60" y1="429.00" x2="98.40" y2="434.00" stroke="#d0d0d0" stroke-width="1.25" stroke-opacity="0.9"/>
<line x1="76.60" y1="431.00" x2="98.40" y2="436.00" stroke="#d0d0d0" stroke-width="1.25" stroke-opacity="0.9"/>
<line x1="76.60" y1="437.00" x2="98.40" y2="426.00" stroke="#d0d0d0" stroke-width="1.25" stroke-opacity="0.9"/>
<line x1="76.60" y1="443.00" x2="98.40" y2="432.00" stroke="#d0d0d0" stroke-width="1.25" stroke-opacity="0.9"/>
<circle cx="76.60" cy="404.00" r="2.15" fill="#6d77c6" stroke="#4a55b6" stroke-width="0.9"/>
<circle cx="76.60" cy="407.00" r="2.15" fill="#6d77c6" stroke="#4a55b6" stroke-width="0.9"/>
<circle cx="76.60" cy="409.50" r="2.15" fill="#6d77c6" stroke="#4a55b6" stroke-width="0.9"/>
<circle cx="76.60" cy="412.00" r="2.15" fill="#6d77c6" stroke="#4a55b6" stroke-width="0.9"/>
<circle cx="76.60" cy="414.50" r="2.15" fill="#6d77c6" stroke="#4a55b6" stroke-width="0.9"/>
<circle cx="76.60" cy="417.00" r="2.15" fill="#6d77c6" stroke="#4a55b6" stroke-width="0.9"/>
<circle cx="76.60" cy="419.50" r="2.15" fill="#6d77c6" stroke="#4a55b6" stroke-width="0.9"/>
<circle cx="76.60" cy="422.00" r="2.15" fill="#6d77c6" stroke="#4a55b6" stroke-width="0.9"/>
<circle cx="76.60" cy="424.50" r="2.15" fill="#6d77c6" stroke="#4a55b6" stroke-width="0.9"/>
<circle cx="76.60" cy="427.00" r="2.15" fill="#6d77c6" stroke="#4a55b6" stroke-width="0.9"/>
<circle cx="76.60" cy="429.00" r="2.15" fill="#6d77c6" stroke="#4a55b6" stroke-width="0.9"/>
<circle cx="76.60" cy="431.00" r="2.15" fill="#6d77c6" stroke="#4a55b6" stroke-width="0.9"/>
<circle cx="76.60" cy="437.00" r="2.15" fill="#6d77c6" stroke="#4a55b6" stroke-width="0.9"/>
<circle cx="76.60" cy="443.00" r="2.15" fill="#6d77c6" stroke="#4a55b6" stroke-width="0.9"/>
<circle cx="76.60" cy="415.50" r="2.15" fill="#6d77c6" stroke="#4a55b6" stroke-width="0.9"/>
<circle cx="76.60" cy="421.00" r="2.15" fill="#6d77c6" stroke="#4a55b6" stroke-width="0.9"/>
<circle cx="98.40" cy="392.40" r="2.15" fill="#ee5797" stroke="#e8307e" stroke-width="0.9"/>
<circle cx="98.40" cy="400.60" r="2.15" fill="#ee5797" stroke="#e8307e" stroke-width="0.9"/>
<circle cx="98.40" cy="414.00" r="2.15" fill="#ee5797" stroke="#e8307e" stroke-width="0.9"/>
<circle cx="98.40" cy="416.00" r="2.15" fill="#ee5797" stroke="#e8307e" stroke-width="0.9"/>
<circle cx="98.40" cy="418.00" r="2.15" fill="#ee5797" stroke="#e8307e" stroke-width="0.9"/>
<circle cx="98.40" cy="420.00" r="2.15" fill="#ee5797" stroke="#e8307e" stroke-width="0.9"/>
<circle cx="98.40" cy="422.00" r="2.15" fill="#ee5797" stroke="#e8307e" stroke-width="0.9"/>
<circle cx="98.40" cy="424.00" r="2.15" fill="#ee5797" stroke="#e8307e" stroke-width="0.9"/>
<circle cx="98.40" cy="426.00" r="2.15" fill="#ee5797" stroke="#e8307e" stroke-width="0.9"/>
<circle cx="98.40" cy="428.00" r="2.15" fill="#ee5797" stroke="#e8307e" stroke-width="0.9"/>
<circle cx="98.40" cy="430.00" r="2.15" fill="#ee5797" stroke="#e8307e" stroke-width="0.9"/>
<circle cx="98.40" cy="432.00" r="2.15" fill="#ee5797" stroke="#e8307e" stroke-width="0.9"/>
<circle cx="98.40" cy="434.00" r="2.15" fill="#ee5797" stroke="#e8307e" stroke-width="0.9"/>
<circle cx="98.40" cy="436.00" r="2.15" fill="#ee5797" stroke="#e8307e" stroke-width="0.9"/>
<circle cx="98.40" cy="419.00" r="2.15" fill="#ee5797" stroke="#e8307e" stroke-width="0.9"/>
<circle cx="98.40" cy="425.00" r="2.15" fill="#ee5797" stroke="#e8307e" stroke-width="0.9"/>
<line x1="45.00" y1="410.00" x2="45.00" y2="417.00" stroke="#1a1a1a" stroke-width="1.8"/>
<line x1="57.60" y1="417.00" x2="57.60" y2="420.60" stroke="#1a1a1a" stroke-width="1.8"/>
<line x1="81.20" y1="410.60" x2="81.20" y2="417.00" stroke="#1a1a1a" stroke-width="1.8"/>
<line x1="94.00" y1="418.60" x2="94.00" y2="423.00" stroke="#1a1a1a" stroke-width="1.8"/>
<line x1="42.00" y1="381.30" x2="62.00" y2="381.30" stroke="#3a3a3a" stroke-width="0.95"/>
<text x="52.30" y="377.80" font-size="8.3" text-anchor="middle" fill="#333" textLength="27.2" lengthAdjust="spacingAndGlyphs"><tspan font-style="italic">P</tspan> = 0.52</text>
<line x1="78.60" y1="381.30" x2="98.60" y2="381.30" stroke="#3a3a3a" stroke-width="0.95"/>
<text x="88.50" y="377.80" font-size="8.3" text-anchor="middle" fill="#333" textLength="27.2" lengthAdjust="spacingAndGlyphs"><tspan font-style="italic">P</tspan> = 0.64</text>
<text x="111.50" y="377.30" font-size="12.8" text-anchor="start" fill="#000" font-weight="bold" stroke="#000" stroke-width="0.45">f</text>
<line x1="144.40" y1="384.60" x2="144.40" y2="492.00" stroke="#9a9a9a" stroke-width="1.6"/>
<line x1="141.80" y1="413.60" x2="144.40" y2="413.60" stroke="#7a7a7a" stroke-width="0.8"/>
<text x="140" y="416.30" font-size="7.6" text-anchor="end" fill="#333">10<tspan dy="-3" font-size="5.2">0</tspan></text>
<line x1="141.80" y1="479.40" x2="144.40" y2="479.40" stroke="#7a7a7a" stroke-width="0.8"/>
<text x="140" y="482.10" font-size="7.6" text-anchor="end" fill="#333">10<tspan dy="-3" font-size="5.2">−1</tspan></text>
<text x="117.2" y="436" font-size="8.4" text-anchor="middle" fill="#222" transform="rotate(-90 117.2 436)">Response variance (PSC<tspan dy="-3" font-size="5.8">2</tspan><tspan dy="3">)</tspan></text>
<line x1="144.40" y1="492.50" x2="210.60" y2="492.50" stroke="#a0a0a0" stroke-width="1.0"/>
<line x1="159.00" y1="492.50" x2="159.00" y2="495.30" stroke="#a0a0a0" stroke-width="0.8"/>
<text x="159.00" y="506.00" font-size="8.2" text-anchor="middle" fill="#222">V3A</text>
<line x1="196.00" y1="492.50" x2="196.00" y2="495.30" stroke="#a0a0a0" stroke-width="0.8"/>
<text x="196.00" y="506.00" font-size="8.2" text-anchor="middle" fill="#222">hMT+</text>
<rect x="147.00" y="436.00" width="11.60" height="56.00" fill="#c8cce7" stroke="#9aa0d4" stroke-width="0.8"/>
<rect x="160.40" y="451.40" width="11.20" height="40.60" fill="#f8bdd7" stroke="#f07eb0" stroke-width="0.8"/>
<rect x="184.00" y="441.00" width="11.60" height="51.00" fill="#c8cce7" stroke="#9aa0d4" stroke-width="0.8"/>
<rect x="197.00" y="455.00" width="11.60" height="37.00" fill="#f8bdd7" stroke="#f07eb0" stroke-width="0.8"/>
<line x1="148.60" y1="389.00" x2="170.60" y2="389.60" stroke="#d0d0d0" stroke-width="1.25" stroke-opacity="0.9"/>
<line x1="148.60" y1="417.40" x2="170.60" y2="431.00" stroke="#d0d0d0" stroke-width="1.25" stroke-opacity="0.9"/>
<line x1="148.60" y1="423.00" x2="170.60" y2="435.00" stroke="#d0d0d0" stroke-width="1.25" stroke-opacity="0.9"/>
<line x1="148.60" y1="425.00" x2="170.60" y2="433.00" stroke="#d0d0d0" stroke-width="1.25" stroke-opacity="0.9"/>
<line x1="148.60" y1="427.50" x2="170.60" y2="437.00" stroke="#d0d0d0" stroke-width="1.25" stroke-opacity="0.9"/>
<line x1="148.60" y1="430.00" x2="170.60" y2="439.00" stroke="#d0d0d0" stroke-width="1.25" stroke-opacity="0.9"/>
<line x1="148.60" y1="432.50" x2="170.60" y2="441.00" stroke="#d0d0d0" stroke-width="1.25" stroke-opacity="0.9"/>
<line x1="148.60" y1="435.00" x2="170.60" y2="447.00" stroke="#d0d0d0" stroke-width="1.25" stroke-opacity="0.9"/>
<line x1="148.60" y1="439.00" x2="170.60" y2="443.00" stroke="#d0d0d0" stroke-width="1.25" stroke-opacity="0.9"/>
<line x1="148.60" y1="441.50" x2="170.60" y2="449.00" stroke="#d0d0d0" stroke-width="1.25" stroke-opacity="0.9"/>
<line x1="148.60" y1="444.00" x2="170.60" y2="451.00" stroke="#d0d0d0" stroke-width="1.25" stroke-opacity="0.9"/>
<line x1="148.60" y1="446.50" x2="170.60" y2="445.00" stroke="#d0d0d0" stroke-width="1.25" stroke-opacity="0.9"/>
<line x1="148.60" y1="449.00" x2="170.60" y2="453.00" stroke="#d0d0d0" stroke-width="1.25" stroke-opacity="0.9"/>
<line x1="148.60" y1="451.50" x2="170.60" y2="442.00" stroke="#d0d0d0" stroke-width="1.25" stroke-opacity="0.9"/>
<line x1="148.60" y1="454.00" x2="170.60" y2="458.00" stroke="#d0d0d0" stroke-width="1.25" stroke-opacity="0.9"/>
<line x1="148.60" y1="459.00" x2="170.60" y2="461.00" stroke="#d0d0d0" stroke-width="1.25" stroke-opacity="0.9"/>
<line x1="148.60" y1="465.00" x2="170.60" y2="486.60" stroke="#d0d0d0" stroke-width="1.25" stroke-opacity="0.9"/>
<line x1="148.60" y1="471.00" x2="170.60" y2="470.00" stroke="#d0d0d0" stroke-width="1.25" stroke-opacity="0.9"/>
<line x1="148.60" y1="475.00" x2="170.60" y2="464.00" stroke="#d0d0d0" stroke-width="1.25" stroke-opacity="0.9"/>
<line x1="148.60" y1="482.00" x2="170.60" y2="455.50" stroke="#d0d0d0" stroke-width="1.25" stroke-opacity="0.9"/>
<circle cx="148.60" cy="389.00" r="2.15" fill="#6d77c6" stroke="#4a55b6" stroke-width="0.9"/>
<circle cx="148.60" cy="417.40" r="2.15" fill="#6d77c6" stroke="#4a55b6" stroke-width="0.9"/>
<circle cx="148.60" cy="423.00" r="2.15" fill="#6d77c6" stroke="#4a55b6" stroke-width="0.9"/>
<circle cx="148.60" cy="425.00" r="2.15" fill="#6d77c6" stroke="#4a55b6" stroke-width="0.9"/>
<circle cx="148.60" cy="427.50" r="2.15" fill="#6d77c6" stroke="#4a55b6" stroke-width="0.9"/>
<circle cx="148.60" cy="430.00" r="2.15" fill="#6d77c6" stroke="#4a55b6" stroke-width="0.9"/>
<circle cx="148.60" cy="432.50" r="2.15" fill="#6d77c6" stroke="#4a55b6" stroke-width="0.9"/>
<circle cx="148.60" cy="435.00" r="2.15" fill="#6d77c6" stroke="#4a55b6" stroke-width="0.9"/>
<circle cx="148.60" cy="439.00" r="2.15" fill="#6d77c6" stroke="#4a55b6" stroke-width="0.9"/>
<circle cx="148.60" cy="441.50" r="2.15" fill="#6d77c6" stroke="#4a55b6" stroke-width="0.9"/>
<circle cx="148.60" cy="444.00" r="2.15" fill="#6d77c6" stroke="#4a55b6" stroke-width="0.9"/>
<circle cx="148.60" cy="446.50" r="2.15" fill="#6d77c6" stroke="#4a55b6" stroke-width="0.9"/>
<circle cx="148.60" cy="449.00" r="2.15" fill="#6d77c6" stroke="#4a55b6" stroke-width="0.9"/>
<circle cx="148.60" cy="451.50" r="2.15" fill="#6d77c6" stroke="#4a55b6" stroke-width="0.9"/>
<circle cx="148.60" cy="454.00" r="2.15" fill="#6d77c6" stroke="#4a55b6" stroke-width="0.9"/>
<circle cx="148.60" cy="459.00" r="2.15" fill="#6d77c6" stroke="#4a55b6" stroke-width="0.9"/>
<circle cx="148.60" cy="465.00" r="2.15" fill="#6d77c6" stroke="#4a55b6" stroke-width="0.9"/>
<circle cx="148.60" cy="471.00" r="2.15" fill="#6d77c6" stroke="#4a55b6" stroke-width="0.9"/>
<circle cx="148.60" cy="475.00" r="2.15" fill="#6d77c6" stroke="#4a55b6" stroke-width="0.9"/>
<circle cx="148.60" cy="482.00" r="2.15" fill="#6d77c6" stroke="#4a55b6" stroke-width="0.9"/>
<circle cx="170.60" cy="389.60" r="2.15" fill="#ee5797" stroke="#e8307e" stroke-width="0.9"/>
<circle cx="170.60" cy="431.00" r="2.15" fill="#ee5797" stroke="#e8307e" stroke-width="0.9"/>
<circle cx="170.60" cy="433.00" r="2.15" fill="#ee5797" stroke="#e8307e" stroke-width="0.9"/>
<circle cx="170.60" cy="435.00" r="2.15" fill="#ee5797" stroke="#e8307e" stroke-width="0.9"/>
<circle cx="170.60" cy="437.00" r="2.15" fill="#ee5797" stroke="#e8307e" stroke-width="0.9"/>
<circle cx="170.60" cy="439.00" r="2.15" fill="#ee5797" stroke="#e8307e" stroke-width="0.9"/>
<circle cx="170.60" cy="441.00" r="2.15" fill="#ee5797" stroke="#e8307e" stroke-width="0.9"/>
<circle cx="170.60" cy="443.00" r="2.15" fill="#ee5797" stroke="#e8307e" stroke-width="0.9"/>
<circle cx="170.60" cy="445.00" r="2.15" fill="#ee5797" stroke="#e8307e" stroke-width="0.9"/>
<circle cx="170.60" cy="447.00" r="2.15" fill="#ee5797" stroke="#e8307e" stroke-width="0.9"/>
<circle cx="170.60" cy="449.00" r="2.15" fill="#ee5797" stroke="#e8307e" stroke-width="0.9"/>
<circle cx="170.60" cy="453.00" r="2.15" fill="#ee5797" stroke="#e8307e" stroke-width="0.9"/>
<circle cx="170.60" cy="455.50" r="2.15" fill="#ee5797" stroke="#e8307e" stroke-width="0.9"/>
<circle cx="170.60" cy="458.00" r="2.15" fill="#ee5797" stroke="#e8307e" stroke-width="0.9"/>
<circle cx="170.60" cy="461.00" r="2.15" fill="#ee5797" stroke="#e8307e" stroke-width="0.9"/>
<circle cx="170.60" cy="464.00" r="2.15" fill="#ee5797" stroke="#e8307e" stroke-width="0.9"/>
<circle cx="170.60" cy="470.00" r="2.15" fill="#ee5797" stroke="#e8307e" stroke-width="0.9"/>
<circle cx="170.60" cy="486.60" r="2.15" fill="#ee5797" stroke="#e8307e" stroke-width="0.9"/>
<circle cx="170.60" cy="451.00" r="2.15" fill="#ee5797" stroke="#e8307e" stroke-width="0.9"/>
<circle cx="170.60" cy="442.00" r="2.15" fill="#ee5797" stroke="#e8307e" stroke-width="0.9"/>
<line x1="185.00" y1="431.00" x2="207.00" y2="446.60" stroke="#d0d0d0" stroke-width="1.25" stroke-opacity="0.9"/>
<line x1="185.00" y1="435.00" x2="207.00" y2="447.00" stroke="#d0d0d0" stroke-width="1.25" stroke-opacity="0.9"/>
<line x1="185.00" y1="437.50" x2="207.00" y2="449.00" stroke="#d0d0d0" stroke-width="1.25" stroke-opacity="0.9"/>
<line x1="185.00" y1="440.00" x2="207.00" y2="448.00" stroke="#d0d0d0" stroke-width="1.25" stroke-opacity="0.9"/>
<line x1="185.00" y1="442.50" x2="207.00" y2="452.00" stroke="#d0d0d0" stroke-width="1.25" stroke-opacity="0.9"/>
<line x1="185.00" y1="444.00" x2="207.00" y2="451.00" stroke="#d0d0d0" stroke-width="1.25" stroke-opacity="0.9"/>
<line x1="185.00" y1="445.00" x2="207.00" y2="450.00" stroke="#d0d0d0" stroke-width="1.25" stroke-opacity="0.9"/>
<line x1="185.00" y1="447.50" x2="207.00" y2="452.00" stroke="#d0d0d0" stroke-width="1.25" stroke-opacity="0.9"/>
<line x1="185.00" y1="449.00" x2="207.00" y2="455.00" stroke="#d0d0d0" stroke-width="1.25" stroke-opacity="0.9"/>
<line x1="185.00" y1="450.00" x2="207.00" y2="454.00" stroke="#d0d0d0" stroke-width="1.25" stroke-opacity="0.9"/>
<line x1="185.00" y1="452.50" x2="207.00" y2="453.00" stroke="#d0d0d0" stroke-width="1.25" stroke-opacity="0.9"/>
<line x1="185.00" y1="455.00" x2="207.00" y2="456.00" stroke="#d0d0d0" stroke-width="1.25" stroke-opacity="0.9"/>
<line x1="185.00" y1="457.50" x2="207.00" y2="458.00" stroke="#d0d0d0" stroke-width="1.25" stroke-opacity="0.9"/>
<line x1="185.00" y1="461.00" x2="207.00" y2="457.00" stroke="#d0d0d0" stroke-width="1.25" stroke-opacity="0.9"/>
<line x1="185.00" y1="467.00" x2="207.00" y2="459.00" stroke="#d0d0d0" stroke-width="1.25" stroke-opacity="0.9"/>
<line x1="185.00" y1="470.00" x2="207.00" y2="467.00" stroke="#d0d0d0" stroke-width="1.25" stroke-opacity="0.9"/>
<line x1="185.00" y1="477.00" x2="207.00" y2="485.00" stroke="#d0d0d0" stroke-width="1.25" stroke-opacity="0.9"/>
<circle cx="185.00" cy="431.00" r="2.15" fill="#6d77c6" stroke="#4a55b6" stroke-width="0.9"/>
<circle cx="185.00" cy="435.00" r="2.15" fill="#6d77c6" stroke="#4a55b6" stroke-width="0.9"/>
<circle cx="185.00" cy="437.50" r="2.15" fill="#6d77c6" stroke="#4a55b6" stroke-width="0.9"/>
<circle cx="185.00" cy="440.00" r="2.15" fill="#6d77c6" stroke="#4a55b6" stroke-width="0.9"/>
<circle cx="185.00" cy="442.50" r="2.15" fill="#6d77c6" stroke="#4a55b6" stroke-width="0.9"/>
<circle cx="185.00" cy="445.00" r="2.15" fill="#6d77c6" stroke="#4a55b6" stroke-width="0.9"/>
<circle cx="185.00" cy="447.50" r="2.15" fill="#6d77c6" stroke="#4a55b6" stroke-width="0.9"/>
<circle cx="185.00" cy="450.00" r="2.15" fill="#6d77c6" stroke="#4a55b6" stroke-width="0.9"/>
<circle cx="185.00" cy="452.50" r="2.15" fill="#6d77c6" stroke="#4a55b6" stroke-width="0.9"/>
<circle cx="185.00" cy="455.00" r="2.15" fill="#6d77c6" stroke="#4a55b6" stroke-width="0.9"/>
<circle cx="185.00" cy="457.50" r="2.15" fill="#6d77c6" stroke="#4a55b6" stroke-width="0.9"/>
<circle cx="185.00" cy="461.00" r="2.15" fill="#6d77c6" stroke="#4a55b6" stroke-width="0.9"/>
<circle cx="185.00" cy="467.00" r="2.15" fill="#6d77c6" stroke="#4a55b6" stroke-width="0.9"/>
<circle cx="185.00" cy="470.00" r="2.15" fill="#6d77c6" stroke="#4a55b6" stroke-width="0.9"/>
<circle cx="185.00" cy="477.00" r="2.15" fill="#6d77c6" stroke="#4a55b6" stroke-width="0.9"/>
<circle cx="185.00" cy="444.00" r="2.15" fill="#6d77c6" stroke="#4a55b6" stroke-width="0.9"/>
<circle cx="185.00" cy="449.00" r="2.15" fill="#6d77c6" stroke="#4a55b6" stroke-width="0.9"/>
<circle cx="207.00" cy="446.60" r="2.15" fill="#ee5797" stroke="#e8307e" stroke-width="0.9"/>
<circle cx="207.00" cy="448.00" r="2.15" fill="#ee5797" stroke="#e8307e" stroke-width="0.9"/>
<circle cx="207.00" cy="450.00" r="2.15" fill="#ee5797" stroke="#e8307e" stroke-width="0.9"/>
<circle cx="207.00" cy="452.00" r="2.15" fill="#ee5797" stroke="#e8307e" stroke-width="0.9"/>
<circle cx="207.00" cy="454.00" r="2.15" fill="#ee5797" stroke="#e8307e" stroke-width="0.9"/>
<circle cx="207.00" cy="456.00" r="2.15" fill="#ee5797" stroke="#e8307e" stroke-width="0.9"/>
<circle cx="207.00" cy="459.00" r="2.15" fill="#ee5797" stroke="#e8307e" stroke-width="0.9"/>
<circle cx="207.00" cy="467.00" r="2.15" fill="#ee5797" stroke="#e8307e" stroke-width="0.9"/>
<circle cx="207.00" cy="485.00" r="2.15" fill="#ee5797" stroke="#e8307e" stroke-width="0.9"/>
<circle cx="207.00" cy="449.00" r="2.15" fill="#ee5797" stroke="#e8307e" stroke-width="0.9"/>
<circle cx="207.00" cy="451.00" r="2.15" fill="#ee5797" stroke="#e8307e" stroke-width="0.9"/>
<circle cx="207.00" cy="453.00" r="2.15" fill="#ee5797" stroke="#e8307e" stroke-width="0.9"/>
<circle cx="207.00" cy="455.00" r="2.15" fill="#ee5797" stroke="#e8307e" stroke-width="0.9"/>
<circle cx="207.00" cy="457.00" r="2.15" fill="#ee5797" stroke="#e8307e" stroke-width="0.9"/>
<circle cx="207.00" cy="447.00" r="2.15" fill="#ee5797" stroke="#e8307e" stroke-width="0.9"/>
<circle cx="207.00" cy="452.00" r="2.15" fill="#ee5797" stroke="#e8307e" stroke-width="0.9"/>
<circle cx="207.00" cy="458.00" r="2.15" fill="#ee5797" stroke="#e8307e" stroke-width="0.9"/>
<line x1="153.60" y1="430.60" x2="153.60" y2="443.00" stroke="#1a1a1a" stroke-width="1.8"/>
<line x1="166.20" y1="449.00" x2="166.20" y2="453.40" stroke="#1a1a1a" stroke-width="1.8"/>
<line x1="190.00" y1="435.00" x2="190.00" y2="449.00" stroke="#1a1a1a" stroke-width="1.8"/>
<line x1="202.60" y1="454.40" x2="202.60" y2="457.00" stroke="#1a1a1a" stroke-width="1.8"/>
<line x1="149.40" y1="381.30" x2="169.00" y2="381.30" stroke="#3a3a3a" stroke-width="0.95"/>
<text x="158.30" y="377.80" font-size="8.3" text-anchor="middle" fill="#333" textLength="32.4" lengthAdjust="spacingAndGlyphs"><tspan font-style="italic">P</tspan> = 0.004</text>
<line x1="185.00" y1="381.30" x2="205.00" y2="381.30" stroke="#3a3a3a" stroke-width="0.95"/>
<text x="195.50" y="377.80" font-size="8.3" text-anchor="middle" fill="#333" textLength="27.2" lengthAdjust="spacingAndGlyphs"><tspan font-style="italic">P</tspan> = 0.03</text>
<text x="223.50" y="377.30" font-size="12.8" text-anchor="start" fill="#000" font-weight="bold" stroke="#000" stroke-width="0.45">g</text>
<line x1="252.50" y1="384.00" x2="252.50" y2="492.00" stroke="#858585" stroke-width="1.0"/>
<line x1="249.90" y1="384.40" x2="252.50" y2="384.40" stroke="#858585" stroke-width="0.8"/>
<text x="245.50" y="387.00" font-size="7.6" text-anchor="end" fill="#333">1.0</text>
<line x1="249.90" y1="399.73" x2="252.50" y2="399.73" stroke="#858585" stroke-width="0.8"/>
<text x="245.50" y="402.33" font-size="7.6" text-anchor="end" fill="#333">0.9</text>
<line x1="249.90" y1="415.06" x2="252.50" y2="415.06" stroke="#858585" stroke-width="0.8"/>
<text x="245.50" y="417.66" font-size="7.6" text-anchor="end" fill="#333">0.8</text>
<line x1="249.90" y1="430.39" x2="252.50" y2="430.39" stroke="#858585" stroke-width="0.8"/>
<text x="245.50" y="432.99" font-size="7.6" text-anchor="end" fill="#333">0.7</text>
<line x1="249.90" y1="445.72" x2="252.50" y2="445.72" stroke="#858585" stroke-width="0.8"/>
<text x="245.50" y="448.32" font-size="7.6" text-anchor="end" fill="#333">0.6</text>
<line x1="249.90" y1="461.05" x2="252.50" y2="461.05" stroke="#858585" stroke-width="0.8"/>
<text x="245.50" y="463.65" font-size="7.6" text-anchor="end" fill="#333">0.5</text>
<line x1="249.90" y1="476.38" x2="252.50" y2="476.38" stroke="#858585" stroke-width="0.8"/>
<text x="245.50" y="478.98" font-size="7.6" text-anchor="end" fill="#333">0.4</text>
<line x1="249.90" y1="491.71" x2="252.50" y2="491.71" stroke="#858585" stroke-width="0.8"/>
<text x="245.50" y="494.31" font-size="7.6" text-anchor="end" fill="#333">0.3</text>
<text x="228.2" y="439" font-size="8.4" text-anchor="middle" fill="#222" transform="rotate(-90 228.2 439)" textLength="86" lengthAdjust="spacingAndGlyphs">Intervoxel correlation</text>
<line x1="252.60" y1="492.50" x2="318.60" y2="492.50" stroke="#a0a0a0" stroke-width="1.0"/>
<line x1="267.60" y1="492.50" x2="267.60" y2="495.30" stroke="#a0a0a0" stroke-width="0.8"/>
<text x="267.60" y="506.00" font-size="8.2" text-anchor="middle" fill="#222">V3A</text>
<line x1="303.00" y1="492.50" x2="303.00" y2="495.30" stroke="#a0a0a0" stroke-width="0.8"/>
<text x="303.00" y="506.00" font-size="8.2" text-anchor="middle" fill="#222">hMT+</text>
<rect x="255.00" y="423.60" width="11.60" height="68.40" fill="#c8cce7" stroke="#9aa0d4" stroke-width="0.8"/>
<rect x="268.00" y="423.60" width="11.40" height="68.40" fill="#f8bdd7" stroke="#f07eb0" stroke-width="0.8"/>
<rect x="291.40" y="424.00" width="11.60" height="68.00" fill="#c8cce7" stroke="#9aa0d4" stroke-width="0.8"/>
<rect x="304.40" y="427.40" width="11.60" height="64.60" fill="#f8bdd7" stroke="#f07eb0" stroke-width="0.8"/>
<line x1="256.40" y1="394.00" x2="278.20" y2="396.60" stroke="#d0d0d0" stroke-width="1.25" stroke-opacity="0.9"/>
<line x1="256.40" y1="398.00" x2="278.20" y2="398.00" stroke="#d0d0d0" stroke-width="1.25" stroke-opacity="0.9"/>
<line x1="256.40" y1="400.50" x2="278.20" y2="400.50" stroke="#d0d0d0" stroke-width="1.25" stroke-opacity="0.9"/>
<line x1="256.40" y1="403.00" x2="278.20" y2="415.50" stroke="#d0d0d0" stroke-width="1.25" stroke-opacity="0.9"/>
<line x1="256.40" y1="405.50" x2="278.20" y2="418.00" stroke="#d0d0d0" stroke-width="1.25" stroke-opacity="0.9"/>
<line x1="256.40" y1="408.00" x2="278.20" y2="413.00" stroke="#d0d0d0" stroke-width="1.25" stroke-opacity="0.9"/>
<line x1="256.40" y1="411.00" x2="278.20" y2="423.00" stroke="#d0d0d0" stroke-width="1.25" stroke-opacity="0.9"/>
<line x1="256.40" y1="413.00" x2="278.20" y2="425.50" stroke="#d0d0d0" stroke-width="1.25" stroke-opacity="0.9"/>
<line x1="256.40" y1="421.00" x2="278.20" y2="420.50" stroke="#d0d0d0" stroke-width="1.25" stroke-opacity="0.9"/>
<line x1="256.40" y1="423.00" x2="278.20" y2="403.00" stroke="#d0d0d0" stroke-width="1.25" stroke-opacity="0.9"/>
<line x1="256.40" y1="425.00" x2="278.20" y2="428.00" stroke="#d0d0d0" stroke-width="1.25" stroke-opacity="0.9"/>
<line x1="256.40" y1="427.00" x2="278.20" y2="426.00" stroke="#d0d0d0" stroke-width="1.25" stroke-opacity="0.9"/>
<line x1="256.40" y1="437.00" x2="278.20" y2="430.50" stroke="#d0d0d0" stroke-width="1.25" stroke-opacity="0.9"/>
<line x1="256.40" y1="441.00" x2="278.20" y2="407.00" stroke="#d0d0d0" stroke-width="1.25" stroke-opacity="0.9"/>
<line x1="256.40" y1="443.50" x2="278.20" y2="433.00" stroke="#d0d0d0" stroke-width="1.25" stroke-opacity="0.9"/>
<line x1="256.40" y1="446.00" x2="278.20" y2="441.00" stroke="#d0d0d0" stroke-width="1.25" stroke-opacity="0.9"/>
<line x1="256.40" y1="449.00" x2="278.20" y2="435.00" stroke="#d0d0d0" stroke-width="1.25" stroke-opacity="0.9"/>
<line x1="256.40" y1="453.00" x2="278.20" y2="452.00" stroke="#d0d0d0" stroke-width="1.25" stroke-opacity="0.9"/>
<line x1="256.40" y1="458.00" x2="278.20" y2="479.40" stroke="#d0d0d0" stroke-width="1.25" stroke-opacity="0.9"/>
<circle cx="256.40" cy="394.00" r="2.15" fill="#6d77c6" stroke="#4a55b6" stroke-width="0.9"/>
<circle cx="256.40" cy="398.00" r="2.15" fill="#6d77c6" stroke="#4a55b6" stroke-width="0.9"/>
<circle cx="256.40" cy="400.50" r="2.15" fill="#6d77c6" stroke="#4a55b6" stroke-width="0.9"/>
<circle cx="256.40" cy="403.00" r="2.15" fill="#6d77c6" stroke="#4a55b6" stroke-width="0.9"/>
<circle cx="256.40" cy="405.50" r="2.15" fill="#6d77c6" stroke="#4a55b6" stroke-width="0.9"/>
<circle cx="256.40" cy="408.00" r="2.15" fill="#6d77c6" stroke="#4a55b6" stroke-width="0.9"/>
<circle cx="256.40" cy="411.00" r="2.15" fill="#6d77c6" stroke="#4a55b6" stroke-width="0.9"/>
<circle cx="256.40" cy="413.00" r="2.15" fill="#6d77c6" stroke="#4a55b6" stroke-width="0.9"/>
<circle cx="256.40" cy="421.00" r="2.15" fill="#6d77c6" stroke="#4a55b6" stroke-width="0.9"/>
<circle cx="256.40" cy="423.00" r="2.15" fill="#6d77c6" stroke="#4a55b6" stroke-width="0.9"/>
<circle cx="256.40" cy="425.00" r="2.15" fill="#6d77c6" stroke="#4a55b6" stroke-width="0.9"/>
<circle cx="256.40" cy="427.00" r="2.15" fill="#6d77c6" stroke="#4a55b6" stroke-width="0.9"/>
<circle cx="256.40" cy="437.00" r="2.15" fill="#6d77c6" stroke="#4a55b6" stroke-width="0.9"/>
<circle cx="256.40" cy="441.00" r="2.15" fill="#6d77c6" stroke="#4a55b6" stroke-width="0.9"/>
<circle cx="256.40" cy="443.50" r="2.15" fill="#6d77c6" stroke="#4a55b6" stroke-width="0.9"/>
<circle cx="256.40" cy="446.00" r="2.15" fill="#6d77c6" stroke="#4a55b6" stroke-width="0.9"/>
<circle cx="256.40" cy="449.00" r="2.15" fill="#6d77c6" stroke="#4a55b6" stroke-width="0.9"/>
<circle cx="256.40" cy="453.00" r="2.15" fill="#6d77c6" stroke="#4a55b6" stroke-width="0.9"/>
<circle cx="256.40" cy="458.00" r="2.15" fill="#6d77c6" stroke="#4a55b6" stroke-width="0.9"/>
<circle cx="278.20" cy="396.60" r="2.15" fill="#ee5797" stroke="#e8307e" stroke-width="0.9"/>
<circle cx="278.20" cy="398.00" r="2.15" fill="#ee5797" stroke="#e8307e" stroke-width="0.9"/>
<circle cx="278.20" cy="400.50" r="2.15" fill="#ee5797" stroke="#e8307e" stroke-width="0.9"/>
<circle cx="278.20" cy="403.00" r="2.15" fill="#ee5797" stroke="#e8307e" stroke-width="0.9"/>
<circle cx="278.20" cy="407.00" r="2.15" fill="#ee5797" stroke="#e8307e" stroke-width="0.9"/>
<circle cx="278.20" cy="413.00" r="2.15" fill="#ee5797" stroke="#e8307e" stroke-width="0.9"/>
<circle cx="278.20" cy="415.50" r="2.15" fill="#ee5797" stroke="#e8307e" stroke-width="0.9"/>
<circle cx="278.20" cy="418.00" r="2.15" fill="#ee5797" stroke="#e8307e" stroke-width="0.9"/>
<circle cx="278.20" cy="420.50" r="2.15" fill="#ee5797" stroke="#e8307e" stroke-width="0.9"/>
<circle cx="278.20" cy="423.00" r="2.15" fill="#ee5797" stroke="#e8307e" stroke-width="0.9"/>
<circle cx="278.20" cy="425.50" r="2.15" fill="#ee5797" stroke="#e8307e" stroke-width="0.9"/>
<circle cx="278.20" cy="428.00" r="2.15" fill="#ee5797" stroke="#e8307e" stroke-width="0.9"/>
<circle cx="278.20" cy="430.50" r="2.15" fill="#ee5797" stroke="#e8307e" stroke-width="0.9"/>
<circle cx="278.20" cy="433.00" r="2.15" fill="#ee5797" stroke="#e8307e" stroke-width="0.9"/>
<circle cx="278.20" cy="435.00" r="2.15" fill="#ee5797" stroke="#e8307e" stroke-width="0.9"/>
<circle cx="278.20" cy="441.00" r="2.15" fill="#ee5797" stroke="#e8307e" stroke-width="0.9"/>
<circle cx="278.20" cy="452.00" r="2.15" fill="#ee5797" stroke="#e8307e" stroke-width="0.9"/>
<circle cx="278.20" cy="479.40" r="2.15" fill="#ee5797" stroke="#e8307e" stroke-width="0.9"/>
<circle cx="278.20" cy="426.00" r="2.15" fill="#ee5797" stroke="#e8307e" stroke-width="0.9"/>
<line x1="292.60" y1="402.00" x2="314.40" y2="407.40" stroke="#d0d0d0" stroke-width="1.25" stroke-opacity="0.9"/>
<line x1="292.60" y1="406.60" x2="314.40" y2="411.00" stroke="#d0d0d0" stroke-width="1.25" stroke-opacity="0.9"/>
<line x1="292.60" y1="415.00" x2="314.40" y2="417.00" stroke="#d0d0d0" stroke-width="1.25" stroke-opacity="0.9"/>
<line x1="292.60" y1="417.50" x2="314.40" y2="414.00" stroke="#d0d0d0" stroke-width="1.25" stroke-opacity="0.9"/>
<line x1="292.60" y1="419.00" x2="314.40" y2="420.00" stroke="#d0d0d0" stroke-width="1.25" stroke-opacity="0.9"/>
<line x1="292.60" y1="420.00" x2="314.40" y2="432.00" stroke="#d0d0d0" stroke-width="1.25" stroke-opacity="0.9"/>
<line x1="292.60" y1="422.50" x2="314.40" y2="426.00" stroke="#d0d0d0" stroke-width="1.25" stroke-opacity="0.9"/>
<line x1="292.60" y1="424.00" x2="314.40" y2="429.00" stroke="#d0d0d0" stroke-width="1.25" stroke-opacity="0.9"/>
<line x1="292.60" y1="425.00" x2="314.40" y2="423.00" stroke="#d0d0d0" stroke-width="1.25" stroke-opacity="0.9"/>
<line x1="292.60" y1="427.50" x2="314.40" y2="435.00" stroke="#d0d0d0" stroke-width="1.25" stroke-opacity="0.9"/>
<line x1="292.60" y1="430.00" x2="314.40" y2="438.00" stroke="#d0d0d0" stroke-width="1.25" stroke-opacity="0.9"/>
<line x1="292.60" y1="432.50" x2="314.40" y2="465.00" stroke="#d0d0d0" stroke-width="1.25" stroke-opacity="0.9"/>
<line x1="292.60" y1="435.00" x2="314.40" y2="443.00" stroke="#d0d0d0" stroke-width="1.25" stroke-opacity="0.9"/>
<line x1="292.60" y1="442.00" x2="314.40" y2="449.40" stroke="#d0d0d0" stroke-width="1.25" stroke-opacity="0.9"/>
<line x1="292.60" y1="445.40" x2="314.40" y2="440.50" stroke="#d0d0d0" stroke-width="1.25" stroke-opacity="0.9"/>
<circle cx="292.60" cy="402.00" r="2.15" fill="#6d77c6" stroke="#4a55b6" stroke-width="0.9"/>
<circle cx="292.60" cy="406.60" r="2.15" fill="#6d77c6" stroke="#4a55b6" stroke-width="0.9"/>
<circle cx="292.60" cy="415.00" r="2.15" fill="#6d77c6" stroke="#4a55b6" stroke-width="0.9"/>
<circle cx="292.60" cy="417.50" r="2.15" fill="#6d77c6" stroke="#4a55b6" stroke-width="0.9"/>
<circle cx="292.60" cy="420.00" r="2.15" fill="#6d77c6" stroke="#4a55b6" stroke-width="0.9"/>
<circle cx="292.60" cy="422.50" r="2.15" fill="#6d77c6" stroke="#4a55b6" stroke-width="0.9"/>
<circle cx="292.60" cy="425.00" r="2.15" fill="#6d77c6" stroke="#4a55b6" stroke-width="0.9"/>
<circle cx="292.60" cy="427.50" r="2.15" fill="#6d77c6" stroke="#4a55b6" stroke-width="0.9"/>
<circle cx="292.60" cy="430.00" r="2.15" fill="#6d77c6" stroke="#4a55b6" stroke-width="0.9"/>
<circle cx="292.60" cy="432.50" r="2.15" fill="#6d77c6" stroke="#4a55b6" stroke-width="0.9"/>
<circle cx="292.60" cy="435.00" r="2.15" fill="#6d77c6" stroke="#4a55b6" stroke-width="0.9"/>
<circle cx="292.60" cy="442.00" r="2.15" fill="#6d77c6" stroke="#4a55b6" stroke-width="0.9"/>
<circle cx="292.60" cy="445.40" r="2.15" fill="#6d77c6" stroke="#4a55b6" stroke-width="0.9"/>
<circle cx="292.60" cy="419.00" r="2.15" fill="#6d77c6" stroke="#4a55b6" stroke-width="0.9"/>
<circle cx="292.60" cy="424.00" r="2.15" fill="#6d77c6" stroke="#4a55b6" stroke-width="0.9"/>
<circle cx="314.40" cy="407.40" r="2.15" fill="#ee5797" stroke="#e8307e" stroke-width="0.9"/>
<circle cx="314.40" cy="411.00" r="2.15" fill="#ee5797" stroke="#e8307e" stroke-width="0.9"/>
<circle cx="314.40" cy="414.00" r="2.15" fill="#ee5797" stroke="#e8307e" stroke-width="0.9"/>
<circle cx="314.40" cy="417.00" r="2.15" fill="#ee5797" stroke="#e8307e" stroke-width="0.9"/>
<circle cx="314.40" cy="420.00" r="2.15" fill="#ee5797" stroke="#e8307e" stroke-width="0.9"/>
<circle cx="314.40" cy="423.00" r="2.15" fill="#ee5797" stroke="#e8307e" stroke-width="0.9"/>
<circle cx="314.40" cy="426.00" r="2.15" fill="#ee5797" stroke="#e8307e" stroke-width="0.9"/>
<circle cx="314.40" cy="429.00" r="2.15" fill="#ee5797" stroke="#e8307e" stroke-width="0.9"/>
<circle cx="314.40" cy="432.00" r="2.15" fill="#ee5797" stroke="#e8307e" stroke-width="0.9"/>
<circle cx="314.40" cy="435.00" r="2.15" fill="#ee5797" stroke="#e8307e" stroke-width="0.9"/>
<circle cx="314.40" cy="438.00" r="2.15" fill="#ee5797" stroke="#e8307e" stroke-width="0.9"/>
<circle cx="314.40" cy="440.50" r="2.15" fill="#ee5797" stroke="#e8307e" stroke-width="0.9"/>
<circle cx="314.40" cy="443.00" r="2.15" fill="#ee5797" stroke="#e8307e" stroke-width="0.9"/>
<circle cx="314.40" cy="449.40" r="2.15" fill="#ee5797" stroke="#e8307e" stroke-width="0.9"/>
<circle cx="314.40" cy="465.00" r="2.15" fill="#ee5797" stroke="#e8307e" stroke-width="0.9"/>
<line x1="261.00" y1="419.60" x2="261.00" y2="427.40" stroke="#1a1a1a" stroke-width="1.8"/>
<line x1="273.60" y1="421.60" x2="273.60" y2="425.40" stroke="#1a1a1a" stroke-width="1.8"/>
<line x1="297.60" y1="420.40" x2="297.60" y2="427.00" stroke="#1a1a1a" stroke-width="1.8"/>
<line x1="310.20" y1="424.00" x2="310.20" y2="430.60" stroke="#1a1a1a" stroke-width="1.8"/>
<line x1="257.00" y1="381.30" x2="276.00" y2="381.30" stroke="#3a3a3a" stroke-width="0.95"/>
<text x="266.50" y="377.80" font-size="8.3" text-anchor="middle" fill="#333" textLength="27.2" lengthAdjust="spacingAndGlyphs"><tspan font-style="italic">P</tspan> = 0.38</text>
<line x1="293.00" y1="381.30" x2="312.60" y2="381.30" stroke="#c4c4c4" stroke-width="0.95"/>
<text x="302.80" y="377.80" font-size="8.3" text-anchor="middle" fill="#333" textLength="27.2" lengthAdjust="spacingAndGlyphs"><tspan font-style="italic">P</tspan> = 0.04</text>
<text x="331.50" y="378.20" font-size="12.8" text-anchor="start" fill="#000" font-weight="bold" stroke="#000" stroke-width="0.45">h</text>
<line x1="359.50" y1="383.60" x2="359.50" y2="492.20" stroke="#858585" stroke-width="1.0"/>
<line x1="356.90" y1="384.20" x2="359.50" y2="384.20" stroke="#858585" stroke-width="0.8"/>
<text x="352.50" y="386.80" font-size="7.6" text-anchor="end" fill="#333">90</text>
<line x1="356.90" y1="420.20" x2="359.50" y2="420.20" stroke="#858585" stroke-width="0.8"/>
<text x="352.50" y="422.80" font-size="7.6" text-anchor="end" fill="#333">60</text>
<line x1="356.90" y1="456.20" x2="359.50" y2="456.20" stroke="#858585" stroke-width="0.8"/>
<text x="352.50" y="458.80" font-size="7.6" text-anchor="end" fill="#333">30</text>
<line x1="356.90" y1="492.20" x2="359.50" y2="492.20" stroke="#858585" stroke-width="0.8"/>
<text x="352.50" y="494.80" font-size="7.6" text-anchor="end" fill="#333">0</text>
<text x="334.4" y="437.5" font-size="8.4" text-anchor="middle" fill="#222" transform="rotate(-90 334.4 437.5)">Signal rotation angle (°)</text>
<line x1="356.30" y1="492.50" x2="411.80" y2="492.50" stroke="#a0a0a0" stroke-width="1.0"/>
<line x1="370.40" y1="492.50" x2="370.40" y2="495.30" stroke="#a0a0a0" stroke-width="0.8"/>
<text x="370.40" y="505.70" font-size="8.2" text-anchor="middle" fill="#222">V3A</text>
<line x1="400.40" y1="492.50" x2="400.40" y2="495.30" stroke="#a0a0a0" stroke-width="0.8"/>
<text x="400.40" y="505.70" font-size="8.2" text-anchor="middle" fill="#222">hMT+</text>
<rect x="361.40" y="426.60" width="18.00" height="65.60" fill="#d4d4d4" stroke="#7a7a7a" stroke-width="0.8"/>
<rect x="391.40" y="427.00" width="18.00" height="65.20" fill="#d4d4d4" stroke="#7a7a7a" stroke-width="0.8"/>
<circle cx="376.80" cy="385.00" r="2.1" fill="none" stroke="#8c8c8c" stroke-width="0.8"/>
<circle cx="376.80" cy="389.00" r="2.1" fill="none" stroke="#8c8c8c" stroke-width="0.8"/>
<circle cx="376.80" cy="396.00" r="2.1" fill="none" stroke="#8c8c8c" stroke-width="0.8"/>
<circle cx="376.80" cy="398.00" r="2.1" fill="none" stroke="#8c8c8c" stroke-width="0.8"/>
<circle cx="376.80" cy="405.00" r="2.1" fill="none" stroke="#8c8c8c" stroke-width="0.8"/>
<circle cx="376.80" cy="407.00" r="2.1" fill="none" stroke="#8c8c8c" stroke-width="0.8"/>
<circle cx="376.80" cy="420.00" r="2.1" fill="none" stroke="#8c8c8c" stroke-width="0.8"/>
<circle cx="376.80" cy="423.00" r="2.1" fill="none" stroke="#8c8c8c" stroke-width="0.8"/>
<circle cx="376.80" cy="427.00" r="2.1" fill="none" stroke="#8c8c8c" stroke-width="0.8"/>
<circle cx="376.80" cy="430.00" r="2.1" fill="none" stroke="#8c8c8c" stroke-width="0.8"/>
<circle cx="376.80" cy="433.00" r="2.1" fill="none" stroke="#8c8c8c" stroke-width="0.8"/>
<circle cx="376.80" cy="436.00" r="2.1" fill="none" stroke="#8c8c8c" stroke-width="0.8"/>
<circle cx="376.80" cy="439.00" r="2.1" fill="none" stroke="#8c8c8c" stroke-width="0.8"/>
<circle cx="376.80" cy="442.00" r="2.1" fill="none" stroke="#8c8c8c" stroke-width="0.8"/>
<circle cx="376.80" cy="445.00" r="2.1" fill="none" stroke="#8c8c8c" stroke-width="0.8"/>
<circle cx="376.80" cy="448.00" r="2.1" fill="none" stroke="#8c8c8c" stroke-width="0.8"/>
<circle cx="376.80" cy="451.00" r="2.1" fill="none" stroke="#8c8c8c" stroke-width="0.8"/>
<circle cx="376.80" cy="461.00" r="2.1" fill="none" stroke="#8c8c8c" stroke-width="0.8"/>
<circle cx="376.80" cy="471.00" r="2.1" fill="none" stroke="#8c8c8c" stroke-width="0.8"/>
<circle cx="376.80" cy="474.00" r="2.1" fill="none" stroke="#8c8c8c" stroke-width="0.8"/>
<circle cx="406.60" cy="385.00" r="2.1" fill="none" stroke="#8c8c8c" stroke-width="0.8"/>
<circle cx="406.60" cy="387.50" r="2.1" fill="none" stroke="#8c8c8c" stroke-width="0.8"/>
<circle cx="406.60" cy="390.00" r="2.1" fill="none" stroke="#8c8c8c" stroke-width="0.8"/>
<circle cx="406.60" cy="395.00" r="2.1" fill="none" stroke="#8c8c8c" stroke-width="0.8"/>
<circle cx="406.60" cy="397.50" r="2.1" fill="none" stroke="#8c8c8c" stroke-width="0.8"/>
<circle cx="406.60" cy="400.00" r="2.1" fill="none" stroke="#8c8c8c" stroke-width="0.8"/>
<circle cx="406.60" cy="404.00" r="2.1" fill="none" stroke="#8c8c8c" stroke-width="0.8"/>
<circle cx="406.60" cy="412.00" r="2.1" fill="none" stroke="#8c8c8c" stroke-width="0.8"/>
<circle cx="406.60" cy="415.00" r="2.1" fill="none" stroke="#8c8c8c" stroke-width="0.8"/>
<circle cx="406.60" cy="418.00" r="2.1" fill="none" stroke="#8c8c8c" stroke-width="0.8"/>
<circle cx="406.60" cy="421.00" r="2.1" fill="none" stroke="#8c8c8c" stroke-width="0.8"/>
<circle cx="406.60" cy="424.00" r="2.1" fill="none" stroke="#8c8c8c" stroke-width="0.8"/>
<circle cx="406.60" cy="441.00" r="2.1" fill="none" stroke="#8c8c8c" stroke-width="0.8"/>
<circle cx="406.60" cy="443.50" r="2.1" fill="none" stroke="#8c8c8c" stroke-width="0.8"/>
<circle cx="406.60" cy="446.00" r="2.1" fill="none" stroke="#8c8c8c" stroke-width="0.8"/>
<circle cx="406.60" cy="449.00" r="2.1" fill="none" stroke="#8c8c8c" stroke-width="0.8"/>
<circle cx="406.60" cy="453.00" r="2.1" fill="none" stroke="#8c8c8c" stroke-width="0.8"/>
<circle cx="406.60" cy="459.00" r="2.1" fill="none" stroke="#8c8c8c" stroke-width="0.8"/>
<circle cx="406.60" cy="464.00" r="2.1" fill="none" stroke="#8c8c8c" stroke-width="0.8"/>
<circle cx="406.60" cy="470.00" r="2.1" fill="none" stroke="#8c8c8c" stroke-width="0.8"/>
<circle cx="406.60" cy="471.60" r="2.1" fill="none" stroke="#8c8c8c" stroke-width="0.8"/>
<line x1="371.00" y1="421.60" x2="371.00" y2="432.00" stroke="#1a1a1a" stroke-width="1.8"/>
<line x1="400.60" y1="422.00" x2="400.60" y2="432.40" stroke="#1a1a1a" stroke-width="1.8"/>
<g fill="none" stroke-width="1.1">
      <ellipse cx="429.1" cy="415.3" rx="16.5" ry="9" transform="rotate(-42 429.1 415.3)" stroke="#e2308c"/>
      <ellipse cx="462.9" cy="430.2" rx="16.5" ry="9" transform="rotate(-42 462.9 430.2)" stroke="#e2308c"/>
      <ellipse cx="459.5" cy="410.3" rx="16.5" ry="9" transform="rotate(-48 459.5 410.3)" stroke="#5363c4"/>
      <ellipse cx="432.2" cy="436.3" rx="16.5" ry="9" transform="rotate(-48 432.2 436.3)" stroke="#5363c4"/>
      <line x1="429.1" y1="415.3" x2="462.9" y2="430.2" stroke="#e33a3a" stroke-width="0.9"/>
      <line x1="433.5" y1="434.5" x2="458" y2="411.5" stroke="#e33a3a" stroke-width="0.9"/>
      <path d="M436.5,395 Q450,383 464.3,394.4" stroke="#333" stroke-width="0.8"/>
      <path d="M438.6,448.5 Q452.8,459 467,448.5" stroke="#333" stroke-width="0.8"/>
      <path d="M443,423 A4,4 0 0 1 449,420" stroke="#e33a3a" stroke-width="0.8"/>
    </g>
<path d="M435.2,398 L436,393.8 L439,396 Z" fill="#333"/>
<path d="M468.5,446 L467.6,450.2 L464.6,448.6 Z" fill="#333"/>
<circle cx="429.10" cy="415.30" r="1.1" fill="#e2308c" stroke="none" stroke-width="0.8"/>
<circle cx="462.90" cy="430.20" r="1.1" fill="#e2308c" stroke="none" stroke-width="0.8"/>
<circle cx="459.50" cy="410.30" r="0.9" fill="#5363c4" stroke="none" stroke-width="0.8"/>
<circle cx="432.20" cy="436.30" r="0.9" fill="#5363c4" stroke="none" stroke-width="0.8"/>
<path d="M433,416.5 L430.5,415.6 L432.5,414.3 Z" fill="#e33a3a"/>
<path d="M459,429 L461.5,429.8 L459.3,431.1 Z" fill="#e33a3a"/>
<path d="M435.5,432.8 L433.8,435 L434.3,432.3 Z" fill="#e33a3a"/>
<path d="M455.7,412.8 L457.8,410.8 L457,413.4 Z" fill="#e33a3a"/>
<text x="446.7" y="417" font-size="8.5" text-anchor="middle" fill="#222">Δ<tspan font-style="italic">θ</tspan></text>
<text x="494.50" y="377.40" font-size="12.8" text-anchor="start" fill="#000" font-weight="bold" stroke="#000" stroke-width="0.45">k</text>
<text x="565.00" y="377.00" font-size="8.4" text-anchor="middle" fill="#222">V3A</text>
<text x="651.00" y="376.60" font-size="8.4" text-anchor="middle" fill="#222">hMT+</text>
<text x="505.6" y="505" font-size="8.4" text-anchor="middle" fill="#222" transform="rotate(-90 505.6 505)">Information gain (rad<tspan dy="-3" font-size="5.8">−2</tspan><tspan dy="3">)</tspan></text>
<line x1="536.50" y1="380.60" x2="536.50" y2="629.00" stroke="#858585" stroke-width="1.0"/>
<line x1="533.90" y1="380.80" x2="536.50" y2="380.80" stroke="#858585" stroke-width="0.8"/>
<text x="529.50" y="383.40" font-size="7.6" text-anchor="end" fill="#333">1.5</text>
<line x1="533.90" y1="426.80" x2="536.50" y2="426.80" stroke="#858585" stroke-width="0.8"/>
<text x="529.50" y="429.40" font-size="7.6" text-anchor="end" fill="#333">1.0</text>
<line x1="533.90" y1="472.80" x2="536.50" y2="472.80" stroke="#858585" stroke-width="0.8"/>
<text x="529.50" y="475.40" font-size="7.6" text-anchor="end" fill="#333">0.5</text>
<line x1="533.90" y1="564.80" x2="536.50" y2="564.80" stroke="#858585" stroke-width="0.8"/>
<text x="529.50" y="567.40" font-size="7.6" text-anchor="end" fill="#333">−0.5</text>
<line x1="533.90" y1="610.80" x2="536.50" y2="610.80" stroke="#858585" stroke-width="0.8"/>
<text x="529.50" y="613.40" font-size="7.6" text-anchor="end" fill="#333">−1.0</text>
<rect x="538.80" y="517.60" width="11.60" height="1.20" fill="#f5e0b8" stroke="#d8a040" stroke-width="0.6"/>
<rect x="552.20" y="512.40" width="11.40" height="6.40" fill="#bfe4f4" stroke="#27a2d8" stroke-width="0.8"/>
<rect x="565.60" y="485.60" width="12.00" height="33.20" fill="#bfe3c2" stroke="#3aa84c" stroke-width="0.8"/>
<rect x="578.40" y="513.00" width="10.60" height="5.80" fill="#f8c4dc" stroke="#e8327f" stroke-width="0.8"/>
<line x1="536.60" y1="518.80" x2="593.00" y2="518.80" stroke="#8a92d6" stroke-width="1.3"/>
<circle cx="548.20" cy="428.20" r="1.55" fill="none" stroke="#d8a040" stroke-width="0.95"/>
<circle cx="548.20" cy="469.00" r="1.55" fill="none" stroke="#d8a040" stroke-width="0.95"/>
<circle cx="548.20" cy="473.00" r="1.55" fill="none" stroke="#d8a040" stroke-width="0.95"/>
<circle cx="548.20" cy="480.60" r="1.55" fill="none" stroke="#d8a040" stroke-width="0.95"/>
<circle cx="548.20" cy="486.00" r="1.55" fill="none" stroke="#d8a040" stroke-width="0.95"/>
<circle cx="548.20" cy="488.00" r="1.55" fill="none" stroke="#d8a040" stroke-width="0.95"/>
<circle cx="548.20" cy="492.00" r="1.55" fill="none" stroke="#d8a040" stroke-width="0.95"/>
<circle cx="548.20" cy="513.60" r="1.55" fill="none" stroke="#d8a040" stroke-width="0.95"/>
<circle cx="548.20" cy="516.00" r="1.55" fill="none" stroke="#d8a040" stroke-width="0.95"/>
<circle cx="548.20" cy="518.00" r="1.55" fill="none" stroke="#d8a040" stroke-width="0.95"/>
<circle cx="548.20" cy="520.00" r="1.55" fill="none" stroke="#d8a040" stroke-width="0.95"/>
<circle cx="548.20" cy="522.60" r="1.55" fill="none" stroke="#d8a040" stroke-width="0.95"/>
<circle cx="548.20" cy="529.60" r="1.55" fill="none" stroke="#d8a040" stroke-width="0.95"/>
<circle cx="548.20" cy="534.00" r="1.55" fill="none" stroke="#d8a040" stroke-width="0.95"/>
<circle cx="548.20" cy="536.00" r="1.55" fill="none" stroke="#d8a040" stroke-width="0.95"/>
<circle cx="548.20" cy="556.40" r="1.55" fill="none" stroke="#d8a040" stroke-width="0.95"/>
<circle cx="548.20" cy="559.00" r="1.55" fill="none" stroke="#d8a040" stroke-width="0.95"/>
<circle cx="548.20" cy="562.00" r="1.55" fill="none" stroke="#d8a040" stroke-width="0.95"/>
<circle cx="548.20" cy="569.60" r="1.55" fill="none" stroke="#d8a040" stroke-width="0.95"/>
<circle cx="548.20" cy="618.00" r="1.55" fill="none" stroke="#d8a040" stroke-width="0.95"/>
<circle cx="561.40" cy="408.60" r="1.55" fill="none" stroke="#27a2d8" stroke-width="0.95"/>
<circle cx="561.40" cy="456.60" r="1.55" fill="none" stroke="#27a2d8" stroke-width="0.95"/>
<circle cx="561.40" cy="464.60" r="1.55" fill="none" stroke="#27a2d8" stroke-width="0.95"/>
<circle cx="561.40" cy="467.00" r="1.55" fill="none" stroke="#27a2d8" stroke-width="0.95"/>
<circle cx="561.40" cy="472.40" r="1.55" fill="none" stroke="#27a2d8" stroke-width="0.95"/>
<circle cx="561.40" cy="479.00" r="1.55" fill="none" stroke="#27a2d8" stroke-width="0.95"/>
<circle cx="561.40" cy="497.00" r="1.55" fill="none" stroke="#27a2d8" stroke-width="0.95"/>
<circle cx="561.40" cy="499.50" r="1.55" fill="none" stroke="#27a2d8" stroke-width="0.95"/>
<circle cx="561.40" cy="502.00" r="1.55" fill="none" stroke="#27a2d8" stroke-width="0.95"/>
<circle cx="561.40" cy="507.00" r="1.55" fill="none" stroke="#27a2d8" stroke-width="0.95"/>
<circle cx="561.40" cy="511.00" r="1.55" fill="none" stroke="#27a2d8" stroke-width="0.95"/>
<circle cx="561.40" cy="513.00" r="1.55" fill="none" stroke="#27a2d8" stroke-width="0.95"/>
<circle cx="561.40" cy="522.40" r="1.55" fill="none" stroke="#27a2d8" stroke-width="0.95"/>
<circle cx="561.40" cy="533.00" r="1.55" fill="none" stroke="#27a2d8" stroke-width="0.95"/>
<circle cx="561.40" cy="534.00" r="1.55" fill="none" stroke="#27a2d8" stroke-width="0.95"/>
<circle cx="561.40" cy="539.00" r="1.55" fill="none" stroke="#27a2d8" stroke-width="0.95"/>
<circle cx="561.40" cy="543.40" r="1.55" fill="none" stroke="#27a2d8" stroke-width="0.95"/>
<circle cx="561.40" cy="553.00" r="1.55" fill="none" stroke="#27a2d8" stroke-width="0.95"/>
<circle cx="561.40" cy="555.60" r="1.55" fill="none" stroke="#27a2d8" stroke-width="0.95"/>
<circle cx="561.40" cy="572.80" r="1.55" fill="none" stroke="#27a2d8" stroke-width="0.95"/>
<circle cx="561.40" cy="609.40" r="1.55" fill="none" stroke="#27a2d8" stroke-width="0.95"/>
<circle cx="574.80" cy="386.40" r="1.55" fill="none" stroke="#3aa84c" stroke-width="0.95"/>
<circle cx="574.80" cy="437.00" r="1.55" fill="none" stroke="#3aa84c" stroke-width="0.95"/>
<circle cx="574.80" cy="460.00" r="1.55" fill="none" stroke="#3aa84c" stroke-width="0.95"/>
<circle cx="574.80" cy="470.00" r="1.55" fill="none" stroke="#3aa84c" stroke-width="0.95"/>
<circle cx="574.80" cy="473.00" r="1.55" fill="none" stroke="#3aa84c" stroke-width="0.95"/>
<circle cx="574.80" cy="476.00" r="1.55" fill="none" stroke="#3aa84c" stroke-width="0.95"/>
<circle cx="574.80" cy="479.00" r="1.55" fill="none" stroke="#3aa84c" stroke-width="0.95"/>
<circle cx="574.80" cy="482.00" r="1.55" fill="none" stroke="#3aa84c" stroke-width="0.95"/>
<circle cx="574.80" cy="485.00" r="1.55" fill="none" stroke="#3aa84c" stroke-width="0.95"/>
<circle cx="574.80" cy="488.00" r="1.55" fill="none" stroke="#3aa84c" stroke-width="0.95"/>
<circle cx="574.80" cy="491.00" r="1.55" fill="none" stroke="#3aa84c" stroke-width="0.95"/>
<circle cx="574.80" cy="494.00" r="1.55" fill="none" stroke="#3aa84c" stroke-width="0.95"/>
<circle cx="574.80" cy="497.00" r="1.55" fill="none" stroke="#3aa84c" stroke-width="0.95"/>
<circle cx="574.80" cy="500.00" r="1.55" fill="none" stroke="#3aa84c" stroke-width="0.95"/>
<circle cx="574.80" cy="503.00" r="1.55" fill="none" stroke="#3aa84c" stroke-width="0.95"/>
<circle cx="574.80" cy="506.00" r="1.55" fill="none" stroke="#3aa84c" stroke-width="0.95"/>
<circle cx="574.80" cy="509.00" r="1.55" fill="none" stroke="#3aa84c" stroke-width="0.95"/>
<circle cx="574.80" cy="512.00" r="1.55" fill="none" stroke="#3aa84c" stroke-width="0.95"/>
<circle cx="574.80" cy="535.00" r="1.55" fill="none" stroke="#3aa84c" stroke-width="0.95"/>
<circle cx="588.20" cy="490.00" r="1.55" fill="#f7a9cb" stroke="#e8327f" stroke-width="0.95"/>
<circle cx="588.20" cy="492.50" r="1.55" fill="#f7a9cb" stroke="#e8327f" stroke-width="0.95"/>
<circle cx="588.20" cy="495.00" r="1.55" fill="#f7a9cb" stroke="#e8327f" stroke-width="0.95"/>
<circle cx="588.20" cy="499.00" r="1.55" fill="#f7a9cb" stroke="#e8327f" stroke-width="0.95"/>
<circle cx="588.20" cy="502.00" r="1.55" fill="#f7a9cb" stroke="#e8327f" stroke-width="0.95"/>
<circle cx="588.20" cy="505.00" r="1.55" fill="#f7a9cb" stroke="#e8327f" stroke-width="0.95"/>
<circle cx="588.20" cy="508.00" r="1.55" fill="#f7a9cb" stroke="#e8327f" stroke-width="0.95"/>
<circle cx="588.20" cy="511.00" r="1.55" fill="#f7a9cb" stroke="#e8327f" stroke-width="0.95"/>
<circle cx="588.20" cy="514.00" r="1.55" fill="#f7a9cb" stroke="#e8327f" stroke-width="0.95"/>
<circle cx="588.20" cy="517.00" r="1.55" fill="#f7a9cb" stroke="#e8327f" stroke-width="0.95"/>
<circle cx="588.20" cy="520.00" r="1.55" fill="#f7a9cb" stroke="#e8327f" stroke-width="0.95"/>
<circle cx="588.20" cy="523.00" r="1.55" fill="#f7a9cb" stroke="#e8327f" stroke-width="0.95"/>
<circle cx="588.20" cy="526.00" r="1.55" fill="#f7a9cb" stroke="#e8327f" stroke-width="0.95"/>
<circle cx="588.20" cy="530.00" r="1.55" fill="#f7a9cb" stroke="#e8327f" stroke-width="0.95"/>
<line x1="544.60" y1="508.00" x2="544.60" y2="525.60" stroke="#1a1a1a" stroke-width="1.6"/>
<line x1="558.00" y1="503.60" x2="558.00" y2="521.60" stroke="#1a1a1a" stroke-width="1.6"/>
<line x1="571.60" y1="479.60" x2="571.60" y2="492.40" stroke="#1a1a1a" stroke-width="1.6"/>
<line x1="584.40" y1="511.40" x2="584.40" y2="515.60" stroke="#1a1a1a" stroke-width="1.6"/>
<text x="526.00" y="521.20" font-size="7.2" text-anchor="middle" fill="#6c76c8">0</text>
<text x="526.00" y="529.80" font-size="8.4" text-anchor="middle" fill="#6c76c8">Pre</text>
<text x="592.40" y="517.60" font-size="8.2" text-anchor="start" fill="#e8327f">Post</text>
<line x1="622.50" y1="380.60" x2="622.50" y2="629.00" stroke="#858585" stroke-width="1.0"/>
<line x1="619.90" y1="381.00" x2="622.50" y2="381.00" stroke="#858585" stroke-width="0.8"/>
<text x="615.50" y="383.60" font-size="7.6" text-anchor="end" fill="#333">1.5</text>
<line x1="619.90" y1="435.00" x2="622.50" y2="435.00" stroke="#858585" stroke-width="0.8"/>
<text x="615.50" y="437.60" font-size="7.6" text-anchor="end" fill="#333">1.0</text>
<line x1="619.90" y1="489.00" x2="622.50" y2="489.00" stroke="#858585" stroke-width="0.8"/>
<text x="615.50" y="491.60" font-size="7.6" text-anchor="end" fill="#333">0.5</text>
<line x1="619.90" y1="597.00" x2="622.50" y2="597.00" stroke="#858585" stroke-width="0.8"/>
<text x="615.50" y="599.60" font-size="7.6" text-anchor="end" fill="#333">−0.5</text>
<rect x="624.60" y="543.00" width="12.60" height="6.60" fill="#f5e0b8" stroke="#d8a040" stroke-width="0.8"/>
<rect x="638.20" y="543.00" width="11.80" height="1.20" fill="#bfe4f4" stroke="#27a2d8" stroke-width="0.6"/>
<rect x="651.20" y="503.00" width="12.40" height="40.00" fill="#bfe3c2" stroke="#3aa84c" stroke-width="0.8"/>
<rect x="664.60" y="536.60" width="11.80" height="6.40" fill="#f8c4dc" stroke="#e8327f" stroke-width="0.8"/>
<line x1="622.00" y1="543.00" x2="679.60" y2="543.00" stroke="#8a92d6" stroke-width="1.3"/>
<circle cx="634.40" cy="420.60" r="1.55" fill="none" stroke="#d8a040" stroke-width="0.95"/>
<circle cx="634.40" cy="457.40" r="1.55" fill="none" stroke="#d8a040" stroke-width="0.95"/>
<circle cx="634.40" cy="504.40" r="1.55" fill="none" stroke="#d8a040" stroke-width="0.95"/>
<circle cx="634.40" cy="512.40" r="1.55" fill="none" stroke="#d8a040" stroke-width="0.95"/>
<circle cx="634.40" cy="520.40" r="1.55" fill="none" stroke="#d8a040" stroke-width="0.95"/>
<circle cx="634.40" cy="525.60" r="1.55" fill="none" stroke="#d8a040" stroke-width="0.95"/>
<circle cx="634.40" cy="531.00" r="1.55" fill="none" stroke="#d8a040" stroke-width="0.95"/>
<circle cx="634.40" cy="537.60" r="1.55" fill="none" stroke="#d8a040" stroke-width="0.95"/>
<circle cx="634.40" cy="559.60" r="1.55" fill="none" stroke="#d8a040" stroke-width="0.95"/>
<circle cx="634.40" cy="573.90" r="1.55" fill="none" stroke="#d8a040" stroke-width="0.95"/>
<circle cx="634.40" cy="580.00" r="1.55" fill="none" stroke="#d8a040" stroke-width="0.95"/>
<circle cx="634.40" cy="585.70" r="1.55" fill="none" stroke="#d8a040" stroke-width="0.95"/>
<circle cx="634.40" cy="594.00" r="1.55" fill="none" stroke="#d8a040" stroke-width="0.95"/>
<circle cx="634.40" cy="596.00" r="1.55" fill="none" stroke="#d8a040" stroke-width="0.95"/>
<circle cx="634.40" cy="598.00" r="1.55" fill="none" stroke="#d8a040" stroke-width="0.95"/>
<circle cx="634.40" cy="611.40" r="1.55" fill="none" stroke="#d8a040" stroke-width="0.95"/>
<circle cx="647.60" cy="425.00" r="1.55" fill="none" stroke="#27a2d8" stroke-width="0.95"/>
<circle cx="647.60" cy="435.80" r="1.55" fill="none" stroke="#27a2d8" stroke-width="0.95"/>
<circle cx="647.60" cy="464.80" r="1.55" fill="none" stroke="#27a2d8" stroke-width="0.95"/>
<circle cx="647.60" cy="498.00" r="1.55" fill="none" stroke="#27a2d8" stroke-width="0.95"/>
<circle cx="647.60" cy="521.60" r="1.55" fill="none" stroke="#27a2d8" stroke-width="0.95"/>
<circle cx="647.60" cy="527.00" r="1.55" fill="none" stroke="#27a2d8" stroke-width="0.95"/>
<circle cx="647.60" cy="533.00" r="1.55" fill="none" stroke="#27a2d8" stroke-width="0.95"/>
<circle cx="647.60" cy="536.00" r="1.55" fill="none" stroke="#27a2d8" stroke-width="0.95"/>
<circle cx="647.60" cy="539.00" r="1.55" fill="none" stroke="#27a2d8" stroke-width="0.95"/>
<circle cx="647.60" cy="542.00" r="1.55" fill="none" stroke="#27a2d8" stroke-width="0.95"/>
<circle cx="647.60" cy="550.00" r="1.55" fill="none" stroke="#27a2d8" stroke-width="0.95"/>
<circle cx="647.60" cy="555.60" r="1.55" fill="none" stroke="#27a2d8" stroke-width="0.95"/>
<circle cx="647.60" cy="570.30" r="1.55" fill="none" stroke="#27a2d8" stroke-width="0.95"/>
<circle cx="647.60" cy="578.50" r="1.55" fill="none" stroke="#27a2d8" stroke-width="0.95"/>
<circle cx="647.60" cy="587.60" r="1.55" fill="none" stroke="#27a2d8" stroke-width="0.95"/>
<circle cx="647.60" cy="593.40" r="1.55" fill="none" stroke="#27a2d8" stroke-width="0.95"/>
<circle cx="647.60" cy="605.00" r="1.55" fill="none" stroke="#27a2d8" stroke-width="0.95"/>
<circle cx="647.60" cy="622.00" r="1.55" fill="none" stroke="#27a2d8" stroke-width="0.95"/>
<circle cx="661.00" cy="385.00" r="1.55" fill="none" stroke="#3aa84c" stroke-width="0.95"/>
<circle cx="661.00" cy="399.40" r="1.55" fill="none" stroke="#3aa84c" stroke-width="0.95"/>
<circle cx="661.00" cy="486.00" r="1.55" fill="none" stroke="#3aa84c" stroke-width="0.95"/>
<circle cx="661.00" cy="488.00" r="1.55" fill="none" stroke="#3aa84c" stroke-width="0.95"/>
<circle cx="661.00" cy="495.00" r="1.55" fill="none" stroke="#3aa84c" stroke-width="0.95"/>
<circle cx="661.00" cy="500.00" r="1.55" fill="none" stroke="#3aa84c" stroke-width="0.95"/>
<circle cx="661.00" cy="503.00" r="1.55" fill="none" stroke="#3aa84c" stroke-width="0.95"/>
<circle cx="661.00" cy="506.00" r="1.55" fill="none" stroke="#3aa84c" stroke-width="0.95"/>
<circle cx="661.00" cy="509.00" r="1.55" fill="none" stroke="#3aa84c" stroke-width="0.95"/>
<circle cx="661.00" cy="512.00" r="1.55" fill="none" stroke="#3aa84c" stroke-width="0.95"/>
<circle cx="661.00" cy="515.00" r="1.55" fill="none" stroke="#3aa84c" stroke-width="0.95"/>
<circle cx="661.00" cy="518.00" r="1.55" fill="none" stroke="#3aa84c" stroke-width="0.95"/>
<circle cx="661.00" cy="521.00" r="1.55" fill="none" stroke="#3aa84c" stroke-width="0.95"/>
<circle cx="661.00" cy="524.00" r="1.55" fill="none" stroke="#3aa84c" stroke-width="0.95"/>
<circle cx="661.00" cy="536.00" r="1.55" fill="none" stroke="#3aa84c" stroke-width="0.95"/>
<circle cx="661.00" cy="541.00" r="1.55" fill="none" stroke="#3aa84c" stroke-width="0.95"/>
<circle cx="661.00" cy="555.60" r="1.55" fill="none" stroke="#3aa84c" stroke-width="0.95"/>
<circle cx="674.60" cy="512.00" r="1.55" fill="#f7a9cb" stroke="#e8327f" stroke-width="0.95"/>
<circle cx="674.60" cy="515.00" r="1.55" fill="#f7a9cb" stroke="#e8327f" stroke-width="0.95"/>
<circle cx="674.60" cy="518.00" r="1.55" fill="#f7a9cb" stroke="#e8327f" stroke-width="0.95"/>
<circle cx="674.60" cy="521.00" r="1.55" fill="#f7a9cb" stroke="#e8327f" stroke-width="0.95"/>
<circle cx="674.60" cy="524.00" r="1.55" fill="#f7a9cb" stroke="#e8327f" stroke-width="0.95"/>
<circle cx="674.60" cy="527.00" r="1.55" fill="#f7a9cb" stroke="#e8327f" stroke-width="0.95"/>
<circle cx="674.60" cy="530.00" r="1.55" fill="#f7a9cb" stroke="#e8327f" stroke-width="0.95"/>
<circle cx="674.60" cy="533.00" r="1.55" fill="#f7a9cb" stroke="#e8327f" stroke-width="0.95"/>
<circle cx="674.60" cy="536.00" r="1.55" fill="#f7a9cb" stroke="#e8327f" stroke-width="0.95"/>
<circle cx="674.60" cy="539.00" r="1.55" fill="#f7a9cb" stroke="#e8327f" stroke-width="0.95"/>
<circle cx="674.60" cy="542.00" r="1.55" fill="#f7a9cb" stroke="#e8327f" stroke-width="0.95"/>
<circle cx="674.60" cy="545.00" r="1.55" fill="#f7a9cb" stroke="#e8327f" stroke-width="0.95"/>
<circle cx="674.60" cy="548.00" r="1.55" fill="#f7a9cb" stroke="#e8327f" stroke-width="0.95"/>
<circle cx="674.60" cy="551.00" r="1.55" fill="#f7a9cb" stroke="#e8327f" stroke-width="0.95"/>
<circle cx="674.60" cy="554.00" r="1.55" fill="#f7a9cb" stroke="#e8327f" stroke-width="0.95"/>
<circle cx="674.60" cy="557.00" r="1.55" fill="#f7a9cb" stroke="#e8327f" stroke-width="0.95"/>
<circle cx="674.60" cy="560.00" r="1.55" fill="#f7a9cb" stroke="#e8327f" stroke-width="0.95"/>
<circle cx="674.60" cy="564.00" r="1.55" fill="#f7a9cb" stroke="#e8327f" stroke-width="0.95"/>
<line x1="631.00" y1="538.00" x2="631.00" y2="561.00" stroke="#1a1a1a" stroke-width="1.6"/>
<line x1="644.00" y1="533.60" x2="644.00" y2="555.60" stroke="#1a1a1a" stroke-width="1.6"/>
<line x1="657.60" y1="495.00" x2="657.60" y2="511.60" stroke="#1a1a1a" stroke-width="1.6"/>
<line x1="671.00" y1="533.00" x2="671.00" y2="539.60" stroke="#1a1a1a" stroke-width="1.6"/>
<text x="612.80" y="545.80" font-size="7.2" text-anchor="middle" fill="#6c76c8">0</text>
<text x="612.20" y="553.20" font-size="8.4" text-anchor="middle" fill="#6c76c8">Pre</text>
<text x="668.00" y="508.60" font-size="8.2" text-anchor="start" fill="#e8327f">Post</text>
<text x="0.40" y="533.00" font-size="12.8" text-anchor="start" fill="#000" font-weight="bold" stroke="#000" stroke-width="0.45">l</text>
<line x1="36.50" y1="532.00" x2="36.50" y2="643.20" stroke="#858585" stroke-width="1.0"/>
<line x1="33.90" y1="547.90" x2="36.50" y2="547.90" stroke="#858585" stroke-width="0.8"/>
<text x="29.50" y="550.50" font-size="7.8" text-anchor="end" fill="#333">30</text>
<line x1="33.90" y1="578.10" x2="36.50" y2="578.10" stroke="#858585" stroke-width="0.8"/>
<text x="29.50" y="580.70" font-size="7.8" text-anchor="end" fill="#333">20</text>
<line x1="33.90" y1="608.30" x2="36.50" y2="608.30" stroke="#858585" stroke-width="0.8"/>
<text x="29.50" y="610.90" font-size="7.8" text-anchor="end" fill="#333">10</text>
<line x1="33.90" y1="638.50" x2="36.50" y2="638.50" stroke="#858585" stroke-width="0.8"/>
<text x="29.50" y="641.10" font-size="7.8" text-anchor="end" fill="#333">0</text>
<line x1="36.80" y1="643.50" x2="229.50" y2="643.50" stroke="#a0a0a0" stroke-width="1.0"/>
<line x1="46.70" y1="643.50" x2="46.70" y2="646.30" stroke="#a0a0a0" stroke-width="0.8"/>
<text x="46.70" y="653.40" font-size="7.8" text-anchor="middle" fill="#222">1</text>
<line x1="91.40" y1="643.50" x2="91.40" y2="646.30" stroke="#a0a0a0" stroke-width="0.8"/>
<text x="91.40" y="653.40" font-size="7.8" text-anchor="middle" fill="#222">2</text>
<line x1="136.10" y1="643.50" x2="136.10" y2="646.30" stroke="#a0a0a0" stroke-width="0.8"/>
<text x="136.10" y="653.40" font-size="7.8" text-anchor="middle" fill="#222">4</text>
<line x1="180.80" y1="643.50" x2="180.80" y2="646.30" stroke="#a0a0a0" stroke-width="0.8"/>
<text x="180.80" y="653.40" font-size="7.8" text-anchor="middle" fill="#222">8</text>
<line x1="225.50" y1="643.50" x2="225.50" y2="646.30" stroke="#a0a0a0" stroke-width="0.8"/>
<text x="225.50" y="653.40" font-size="7.8" text-anchor="middle" fill="#222">16</text>
<text x="136.00" y="663.60" font-size="8.4" text-anchor="middle" fill="#222">PC index</text>
<text x="14" y="587" font-size="8.4" text-anchor="middle" fill="#222" transform="rotate(-90 14 587)">PC variance (PSC<tspan dy="-3" font-size="5.8">2</tspan><tspan dy="3">)</tspan></text>
<polyline points="45.70,597.73 90.40,634.57 116.55,635.92 135.10,636.59 149.49,636.98 161.25,637.25 171.19,637.43 179.80,637.57 187.40,637.68 194.19,637.76 200.34,637.83 205.95,637.89 211.11,637.94 215.89,637.98 220.34,638.02 224.50,638.05" fill="none" stroke="#4a56b8" stroke-width="1.3" stroke-linejoin="round" stroke-dasharray="3.2,2"/>
<polyline points="47.90,603.77 92.60,633.37 118.75,635.12 137.30,635.98 151.69,636.50 163.45,636.84 173.39,637.09 182.00,637.27 189.60,637.41 196.39,637.52 202.54,637.61 208.15,637.69 213.31,637.75 218.09,637.81 222.54,637.85 226.70,637.90" fill="none" stroke="#e8327f" stroke-width="1.3" stroke-linejoin="round" stroke-dasharray="3.2,2"/>
<polyline points="45.70,559.98 90.40,630.65 116.55,633.53 135.10,634.90 149.49,635.70 161.25,636.22 171.19,636.58 179.80,636.85 187.40,637.06 194.19,637.22 200.34,637.35 205.95,637.46 211.11,637.55 215.89,637.62 220.34,637.69 224.50,637.75" fill="none" stroke="#4a56b8" stroke-width="1.3" stroke-linejoin="round"/>
<polyline points="47.90,572.06 92.60,631.55 118.75,634.19 137.30,635.42 151.69,636.13 163.45,636.59 173.39,636.91 182.00,637.14 189.60,637.31 196.39,637.45 202.54,637.56 208.15,637.65 213.31,637.73 218.09,637.79 222.54,637.85 226.70,637.90" fill="none" stroke="#e8327f" stroke-width="1.3" stroke-linejoin="round"/>
<line x1="45.60" y1="537.60" x2="45.60" y2="581.00" stroke="#4a56b8" stroke-width="1.3"/>
<line x1="48.00" y1="549.30" x2="48.00" y2="592.20" stroke="#e8327f" stroke-width="1.3"/>
<line x1="45.60" y1="592.90" x2="45.60" y2="599.70" stroke="#4a56b8" stroke-width="1.3"/>
<line x1="48.00" y1="601.90" x2="48.00" y2="605.30" stroke="#e8327f" stroke-width="1.3"/>
<line x1="148.2" y1="535.8" x2="161.8" y2="535.8" stroke="#4a56b8" stroke-width="1.3"/>
<line x1="155.00" y1="532.20" x2="155.00" y2="539.40" stroke="#4a56b8" stroke-width="1.2"/>
<text x="167.00" y="538.80" font-size="8.2" text-anchor="start" fill="#222">Pre: V3A</text>
<line x1="148.2" y1="546.6" x2="161.8" y2="546.6" stroke="#4a56b8" stroke-width="1.3" stroke-dasharray="3,1.6"/>
<line x1="155.00" y1="543.00" x2="155.00" y2="550.20" stroke="#4a56b8" stroke-width="1.2"/>
<text x="167.00" y="549.60" font-size="8.2" text-anchor="start" fill="#222">Pre: hMT+</text>
<line x1="148.2" y1="557.4" x2="161.8" y2="557.4" stroke="#e8327f" stroke-width="1.3"/>
<line x1="155.00" y1="553.80" x2="155.00" y2="561.00" stroke="#e8327f" stroke-width="1.2"/>
<text x="167.00" y="560.40" font-size="8.2" text-anchor="start" fill="#222">Post: V3A</text>
<line x1="148.2" y1="568.3" x2="161.8" y2="568.3" stroke="#e8327f" stroke-width="1.3" stroke-dasharray="3,1.6"/>
<line x1="155.00" y1="564.70" x2="155.00" y2="571.90" stroke="#e8327f" stroke-width="1.2"/>
<text x="167.00" y="571.30" font-size="8.2" text-anchor="start" fill="#222">Post: hMT+</text>
<text x="248.30" y="532.00" font-size="12.8" text-anchor="start" fill="#000" font-weight="bold" stroke="#000" stroke-width="0.45">j</text>
<line x1="288.50" y1="532.00" x2="288.50" y2="643.20" stroke="#858585" stroke-width="1.0"/>
<line x1="285.90" y1="544.80" x2="288.50" y2="544.80" stroke="#858585" stroke-width="0.8"/>
<text x="281.50" y="547.40" font-size="7.8" text-anchor="end" fill="#333">80</text>
<line x1="285.90" y1="569.40" x2="288.50" y2="569.40" stroke="#858585" stroke-width="0.8"/>
<text x="281.50" y="572.00" font-size="7.8" text-anchor="end" fill="#333">60</text>
<line x1="285.90" y1="594.00" x2="288.50" y2="594.00" stroke="#858585" stroke-width="0.8"/>
<text x="281.50" y="596.60" font-size="7.8" text-anchor="end" fill="#333">40</text>
<line x1="285.90" y1="618.60" x2="288.50" y2="618.60" stroke="#858585" stroke-width="0.8"/>
<text x="281.50" y="621.20" font-size="7.8" text-anchor="end" fill="#333">20</text>
<line x1="285.90" y1="643.20" x2="288.50" y2="643.20" stroke="#858585" stroke-width="0.8"/>
<text x="281.50" y="645.80" font-size="7.8" text-anchor="end" fill="#333">0</text>
<line x1="288.30" y1="643.50" x2="481.20" y2="643.50" stroke="#a0a0a0" stroke-width="1.0"/>
<line x1="310.13" y1="643.50" x2="310.13" y2="646.30" stroke="#a0a0a0" stroke-width="0.8"/>
<text x="310.13" y="653.40" font-size="7.8" text-anchor="middle" fill="#222">2</text>
<line x1="335.19" y1="643.50" x2="335.19" y2="646.30" stroke="#a0a0a0" stroke-width="0.8"/>
<text x="335.19" y="653.40" font-size="7.8" text-anchor="middle" fill="#222">4</text>
<line x1="360.25" y1="643.50" x2="360.25" y2="646.30" stroke="#a0a0a0" stroke-width="0.8"/>
<text x="360.25" y="653.40" font-size="7.8" text-anchor="middle" fill="#222">6</text>
<line x1="385.31" y1="643.50" x2="385.31" y2="646.30" stroke="#a0a0a0" stroke-width="0.8"/>
<text x="385.31" y="653.40" font-size="7.8" text-anchor="middle" fill="#222">8</text>
<line x1="410.37" y1="643.50" x2="410.37" y2="646.30" stroke="#a0a0a0" stroke-width="0.8"/>
<text x="410.37" y="653.40" font-size="7.8" text-anchor="middle" fill="#222">10</text>
<line x1="435.43" y1="643.50" x2="435.43" y2="646.30" stroke="#a0a0a0" stroke-width="0.8"/>
<text x="435.43" y="653.40" font-size="7.8" text-anchor="middle" fill="#222">12</text>
<line x1="460.49" y1="643.50" x2="460.49" y2="646.30" stroke="#a0a0a0" stroke-width="0.8"/>
<text x="460.49" y="653.40" font-size="7.8" text-anchor="middle" fill="#222">14</text>
<text x="384.80" y="663.60" font-size="8.4" text-anchor="middle" fill="#222">PC index</text>
<text x="254.60" y="587.60" font-size="8.4" text-anchor="middle" fill="#222" textLength="79.5" lengthAdjust="spacingAndGlyphs" transform="rotate(-90 254.60 587.60)">Covariance rotation</text>
<text x="265.20" y="587.30" font-size="8.4" text-anchor="middle" fill="#222" transform="rotate(-90 265.20 587.30)">angle (°)</text>
<polyline points="297.60,634.60 310.13,609.80 322.66,592.90 335.19,579.40 347.72,575.50 360.25,568.50 372.78,572.10 385.31,566.50 397.84,564.20 410.37,565.80 422.90,553.40 435.43,555.20 447.96,556.80 460.49,554.50 473.02,556.30" fill="none" stroke="#a8a8a8" stroke-width="1.4" stroke-linejoin="round"/>
<line x1="310.13" y1="605.20" x2="310.13" y2="614.40" stroke="#a8a8a8" stroke-width="1.2"/>
<line x1="322.66" y1="588.30" x2="322.66" y2="597.50" stroke="#a8a8a8" stroke-width="1.2"/>
<line x1="335.19" y1="574.80" x2="335.19" y2="584.00" stroke="#a8a8a8" stroke-width="1.2"/>
<line x1="347.72" y1="570.90" x2="347.72" y2="580.10" stroke="#a8a8a8" stroke-width="1.2"/>
<line x1="360.25" y1="563.90" x2="360.25" y2="573.10" stroke="#a8a8a8" stroke-width="1.2"/>
<line x1="372.78" y1="567.50" x2="372.78" y2="576.70" stroke="#a8a8a8" stroke-width="1.2"/>
<line x1="385.31" y1="561.90" x2="385.31" y2="571.10" stroke="#a8a8a8" stroke-width="1.2"/>
<line x1="397.84" y1="559.60" x2="397.84" y2="568.80" stroke="#a8a8a8" stroke-width="1.2"/>
<line x1="410.37" y1="561.20" x2="410.37" y2="570.40" stroke="#a8a8a8" stroke-width="1.2"/>
<line x1="422.90" y1="548.80" x2="422.90" y2="558.00" stroke="#a8a8a8" stroke-width="1.2"/>
<line x1="435.43" y1="550.60" x2="435.43" y2="559.80" stroke="#a8a8a8" stroke-width="1.2"/>
<line x1="447.96" y1="552.20" x2="447.96" y2="561.40" stroke="#a8a8a8" stroke-width="1.2"/>
<line x1="460.49" y1="549.90" x2="460.49" y2="559.10" stroke="#a8a8a8" stroke-width="1.2"/>
<line x1="473.02" y1="551.70" x2="473.02" y2="560.90" stroke="#a8a8a8" stroke-width="1.2"/>
<polyline points="297.60,634.60 310.13,605.70 322.66,586.10 335.19,578.90 347.72,574.80 360.25,563.10 372.78,564.00 385.31,565.80 397.84,564.00 410.37,561.30 422.90,562.40 435.43,555.60 447.96,552.70 460.49,559.70 473.02,557.20" fill="none" stroke="#3c3c3c" stroke-width="1.4" stroke-linejoin="round"/>
<line x1="310.13" y1="600.70" x2="310.13" y2="610.70" stroke="#3c3c3c" stroke-width="1.2"/>
<line x1="322.66" y1="581.10" x2="322.66" y2="591.10" stroke="#3c3c3c" stroke-width="1.2"/>
<line x1="335.19" y1="573.90" x2="335.19" y2="583.90" stroke="#3c3c3c" stroke-width="1.2"/>
<line x1="347.72" y1="569.80" x2="347.72" y2="579.80" stroke="#3c3c3c" stroke-width="1.2"/>
<line x1="360.25" y1="558.10" x2="360.25" y2="568.10" stroke="#3c3c3c" stroke-width="1.2"/>
<line x1="372.78" y1="559.00" x2="372.78" y2="569.00" stroke="#3c3c3c" stroke-width="1.2"/>
<line x1="385.31" y1="560.80" x2="385.31" y2="570.80" stroke="#3c3c3c" stroke-width="1.2"/>
<line x1="397.84" y1="559.00" x2="397.84" y2="569.00" stroke="#3c3c3c" stroke-width="1.2"/>
<line x1="410.37" y1="556.30" x2="410.37" y2="566.30" stroke="#3c3c3c" stroke-width="1.2"/>
<line x1="422.90" y1="557.40" x2="422.90" y2="567.40" stroke="#3c3c3c" stroke-width="1.2"/>
<line x1="435.43" y1="550.60" x2="435.43" y2="560.60" stroke="#3c3c3c" stroke-width="1.2"/>
<line x1="447.96" y1="547.70" x2="447.96" y2="557.70" stroke="#3c3c3c" stroke-width="1.2"/>
<line x1="460.49" y1="554.70" x2="460.49" y2="564.70" stroke="#3c3c3c" stroke-width="1.2"/>
<line x1="473.02" y1="552.20" x2="473.02" y2="562.20" stroke="#3c3c3c" stroke-width="1.2"/>
<line x1="291.30" y1="539.40" x2="304.80" y2="539.40" stroke="#a8a8a8" stroke-width="1.4"/>
<line x1="298.00" y1="535.40" x2="298.00" y2="543.40" stroke="#a8a8a8" stroke-width="1.2"/>
<text x="310.00" y="542.40" font-size="8.4" text-anchor="start" fill="#222">V3A</text>
<line x1="291.30" y1="550.00" x2="304.80" y2="550.00" stroke="#3c3c3c" stroke-width="1.4"/>
<line x1="298.00" y1="546.00" x2="298.00" y2="554.00" stroke="#3c3c3c" stroke-width="1.2"/>
<text x="310.00" y="553.00" font-size="8.4" text-anchor="start" fill="#222">hMT+</text>
<g fill="none">
      <ellipse cx="440.4" cy="613.5" rx="32.5" ry="15.5" transform="rotate(-47 440.4 613.5)" stroke="#4452b4" stroke-width="1.6"/>
      <ellipse cx="440.4" cy="613.7" rx="23.5" ry="12.8" transform="rotate(48 440.4 613.7)" stroke="#e2308c" stroke-width="1.0"/>
      <line x1="440.5" y1="613.6" x2="462.4" y2="592" stroke="#111" stroke-width="0.9"/>
      <line x1="440.5" y1="613.6" x2="424.6" y2="598" stroke="#111" stroke-width="0.9"/>
      <path d="M436,609 Q440.5,604 445,609" stroke="#e33a3a" stroke-width="1"/>
      <path d="M457.4,586.8 Q442.7,576 427.8,591.2" stroke="#111" stroke-width="0.9"/>
    </g>
<path d="M463.2,591.2 L459.4,592.6 L461.8,595 Z" fill="#111"/>
<path d="M423.8,597.2 L425.6,600.8 L427.4,598.6 Z" fill="#111"/>
<path d="M426.4,592.8 L427.3,588.6 L430.2,591.4 Z" fill="#111"/>
<circle cx="440.50" cy="613.60" r="1.7" fill="#000" stroke="none" stroke-width="0.8"/>
<text x="442.7" y="623.4" font-size="9.6" text-anchor="middle" fill="#222">Δ<tspan font-style="italic">θ</tspan></text>
</svg></body></html>
